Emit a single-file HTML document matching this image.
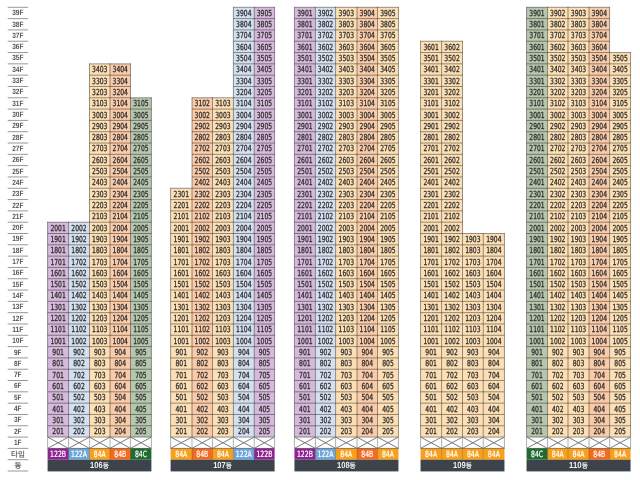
<!DOCTYPE html><html><head><meta charset="utf-8"><style>html,body{margin:0;padding:0;background:#fff;width:640px;height:480px;overflow:hidden}#w{will-change:transform;width:640px;height:480px}svg{display:block;text-rendering:geometricPrecision;font-family:"Liberation Sans","Noto Sans CJK KR",sans-serif}</style></head><body><div id="w"><svg width="640" height="480" viewBox="0 0 640 480"><rect width="640" height="480" fill="#fff"/><g stroke="#999" stroke-width="1"><line x1="7.7" y1="7.30" x2="28.2" y2="7.30"/><line x1="7.7" y1="18.61" x2="28.2" y2="18.61"/><line x1="7.7" y1="29.92" x2="28.2" y2="29.92"/><line x1="7.7" y1="41.23" x2="28.2" y2="41.23"/><line x1="7.7" y1="52.54" x2="28.2" y2="52.54"/><line x1="7.7" y1="63.85" x2="28.2" y2="63.85"/><line x1="7.7" y1="75.16" x2="28.2" y2="75.16"/><line x1="7.7" y1="86.47" x2="28.2" y2="86.47"/><line x1="7.7" y1="97.78" x2="28.2" y2="97.78"/><line x1="7.7" y1="109.09" x2="28.2" y2="109.09"/><line x1="7.7" y1="120.40" x2="28.2" y2="120.40"/><line x1="7.7" y1="131.71" x2="28.2" y2="131.71"/><line x1="7.7" y1="143.02" x2="28.2" y2="143.02"/><line x1="7.7" y1="154.33" x2="28.2" y2="154.33"/><line x1="7.7" y1="165.64" x2="28.2" y2="165.64"/><line x1="7.7" y1="176.95" x2="28.2" y2="176.95"/><line x1="7.7" y1="188.26" x2="28.2" y2="188.26"/><line x1="7.7" y1="199.57" x2="28.2" y2="199.57"/><line x1="7.7" y1="210.88" x2="28.2" y2="210.88"/><line x1="7.7" y1="222.19" x2="28.2" y2="222.19"/><line x1="7.7" y1="233.50" x2="28.2" y2="233.50"/><line x1="7.7" y1="244.81" x2="28.2" y2="244.81"/><line x1="7.7" y1="256.12" x2="28.2" y2="256.12"/><line x1="7.7" y1="267.43" x2="28.2" y2="267.43"/><line x1="7.7" y1="278.74" x2="28.2" y2="278.74"/><line x1="7.7" y1="290.05" x2="28.2" y2="290.05"/><line x1="7.7" y1="301.36" x2="28.2" y2="301.36"/><line x1="7.7" y1="312.67" x2="28.2" y2="312.67"/><line x1="7.7" y1="323.98" x2="28.2" y2="323.98"/><line x1="7.7" y1="335.29" x2="28.2" y2="335.29"/><line x1="7.7" y1="346.60" x2="28.2" y2="346.60"/><line x1="7.7" y1="357.91" x2="28.2" y2="357.91"/><line x1="7.7" y1="369.22" x2="28.2" y2="369.22"/><line x1="7.7" y1="380.53" x2="28.2" y2="380.53"/><line x1="7.7" y1="391.84" x2="28.2" y2="391.84"/><line x1="7.7" y1="403.15" x2="28.2" y2="403.15"/><line x1="7.7" y1="414.46" x2="28.2" y2="414.46"/><line x1="7.7" y1="425.77" x2="28.2" y2="425.77"/><line x1="7.7" y1="437.08" x2="28.2" y2="437.08"/><line x1="7.7" y1="448.39" x2="28.2" y2="448.39"/><line x1="7.7" y1="459.70" x2="28.2" y2="459.70"/><line x1="7.7" y1="471.01" x2="28.2" y2="471.01"/></g><g fill="#555" font-size="7.7" text-anchor="middle"><text x="17.8" y="15.25" textLength="11.3" lengthAdjust="spacingAndGlyphs" font-weight="bold">39F</text><text x="17.8" y="26.57" textLength="11.3" lengthAdjust="spacingAndGlyphs" font-weight="bold">38F</text><text x="17.8" y="37.88" textLength="11.3" lengthAdjust="spacingAndGlyphs" font-weight="bold">37F</text><text x="17.8" y="49.18" textLength="11.3" lengthAdjust="spacingAndGlyphs" font-weight="bold">36F</text><text x="17.8" y="60.49" textLength="11.3" lengthAdjust="spacingAndGlyphs" font-weight="bold">35F</text><text x="17.8" y="71.80" textLength="11.3" lengthAdjust="spacingAndGlyphs" font-weight="bold">34F</text><text x="17.8" y="83.11" textLength="11.3" lengthAdjust="spacingAndGlyphs" font-weight="bold">33F</text><text x="17.8" y="94.42" textLength="11.3" lengthAdjust="spacingAndGlyphs" font-weight="bold">32F</text><text x="17.8" y="105.73" textLength="11.3" lengthAdjust="spacingAndGlyphs" font-weight="bold">31F</text><text x="17.8" y="117.05" textLength="11.3" lengthAdjust="spacingAndGlyphs" font-weight="bold">30F</text><text x="17.8" y="128.36" textLength="11.3" lengthAdjust="spacingAndGlyphs" font-weight="bold">29F</text><text x="17.8" y="139.67" textLength="11.3" lengthAdjust="spacingAndGlyphs" font-weight="bold">28F</text><text x="17.8" y="150.98" textLength="11.3" lengthAdjust="spacingAndGlyphs" font-weight="bold">27F</text><text x="17.8" y="162.29" textLength="11.3" lengthAdjust="spacingAndGlyphs" font-weight="bold">26F</text><text x="17.8" y="173.60" textLength="11.3" lengthAdjust="spacingAndGlyphs" font-weight="bold">25F</text><text x="17.8" y="184.91" textLength="11.3" lengthAdjust="spacingAndGlyphs" font-weight="bold">24F</text><text x="17.8" y="196.22" textLength="11.3" lengthAdjust="spacingAndGlyphs" font-weight="bold">23F</text><text x="17.8" y="207.53" textLength="11.3" lengthAdjust="spacingAndGlyphs" font-weight="bold">22F</text><text x="17.8" y="218.84" textLength="11.3" lengthAdjust="spacingAndGlyphs" font-weight="bold">21F</text><text x="17.8" y="230.15" textLength="11.3" lengthAdjust="spacingAndGlyphs" font-weight="bold">20F</text><text x="17.8" y="241.46" textLength="11.3" lengthAdjust="spacingAndGlyphs" font-weight="bold">19F</text><text x="17.8" y="252.77" textLength="11.3" lengthAdjust="spacingAndGlyphs" font-weight="bold">18F</text><text x="17.8" y="264.07" textLength="11.3" lengthAdjust="spacingAndGlyphs" font-weight="bold">17F</text><text x="17.8" y="275.38" textLength="11.3" lengthAdjust="spacingAndGlyphs" font-weight="bold">16F</text><text x="17.8" y="286.69" textLength="11.3" lengthAdjust="spacingAndGlyphs" font-weight="bold">15F</text><text x="17.8" y="298.00" textLength="11.3" lengthAdjust="spacingAndGlyphs" font-weight="bold">14F</text><text x="17.8" y="309.31" textLength="11.3" lengthAdjust="spacingAndGlyphs" font-weight="bold">13F</text><text x="17.8" y="320.62" textLength="11.3" lengthAdjust="spacingAndGlyphs" font-weight="bold">12F</text><text x="17.8" y="331.94" textLength="11.3" lengthAdjust="spacingAndGlyphs" font-weight="bold">11F</text><text x="17.8" y="343.25" textLength="11.3" lengthAdjust="spacingAndGlyphs" font-weight="bold">10F</text><text x="17.8" y="354.56" textLength="7.6" lengthAdjust="spacingAndGlyphs" font-weight="bold">9F</text><text x="17.8" y="365.87" textLength="7.6" lengthAdjust="spacingAndGlyphs" font-weight="bold">8F</text><text x="17.8" y="377.18" textLength="7.6" lengthAdjust="spacingAndGlyphs" font-weight="bold">7F</text><text x="17.8" y="388.49" textLength="7.6" lengthAdjust="spacingAndGlyphs" font-weight="bold">6F</text><text x="17.8" y="399.80" textLength="7.6" lengthAdjust="spacingAndGlyphs" font-weight="bold">5F</text><text x="17.8" y="411.11" textLength="7.6" lengthAdjust="spacingAndGlyphs" font-weight="bold">4F</text><text x="17.8" y="422.42" textLength="7.6" lengthAdjust="spacingAndGlyphs" font-weight="bold">3F</text><text x="17.8" y="433.73" textLength="7.6" lengthAdjust="spacingAndGlyphs" font-weight="bold">2F</text><text x="17.8" y="445.04" textLength="7.6" lengthAdjust="spacingAndGlyphs" font-weight="bold">1F</text><text x="17.9" y="456.94" font-size="7.6" font-weight="normal" stroke="#5e5e5e" stroke-width="0.15">타입</text><text x="17.9" y="468.25" font-size="7.6" font-weight="normal" stroke="#5e5e5e" stroke-width="0.15">동</text></g><g><rect x="47.60" y="222.19" width="20.95" height="214.89" fill="#d6b9db"/><rect x="47.60" y="448.39" width="21.25" height="11.31" fill="#8f2391"/><rect x="68.55" y="222.19" width="20.95" height="214.89" fill="#d4e0ef"/><rect x="68.55" y="448.39" width="21.25" height="11.31" fill="#6fa7da"/><rect x="89.50" y="63.85" width="20.50" height="373.23" fill="#fcdfb4"/><rect x="89.50" y="448.39" width="20.80" height="11.31" fill="#f7a01c"/><rect x="110.00" y="63.85" width="20.50" height="373.23" fill="#f9cba9"/><rect x="110.00" y="448.39" width="20.80" height="11.31" fill="#f26b21"/><rect x="130.50" y="97.78" width="20.90" height="339.30" fill="#b6c7ae"/><rect x="130.50" y="448.39" width="20.90" height="11.31" fill="#1f6b30"/></g><g stroke="#000" stroke-opacity="0.4" stroke-width="1"><line x1="47.60" y1="221.69" x2="47.60" y2="437.08"/><line x1="68.55" y1="221.69" x2="68.55" y2="437.08"/><line x1="89.50" y1="63.35" x2="89.50" y2="437.08"/><line x1="110.00" y1="63.35" x2="110.00" y2="437.08"/><line x1="130.50" y1="63.35" x2="130.50" y2="437.08"/><line x1="151.40" y1="97.28" x2="151.40" y2="437.08"/><line x1="47.60" y1="222.19" x2="68.55" y2="222.19"/><line x1="47.60" y1="233.50" x2="68.55" y2="233.50"/><line x1="47.60" y1="244.81" x2="68.55" y2="244.81"/><line x1="47.60" y1="256.12" x2="68.55" y2="256.12"/><line x1="47.60" y1="267.43" x2="68.55" y2="267.43"/><line x1="47.60" y1="278.74" x2="68.55" y2="278.74"/><line x1="47.60" y1="290.05" x2="68.55" y2="290.05"/><line x1="47.60" y1="301.36" x2="68.55" y2="301.36"/><line x1="47.60" y1="312.67" x2="68.55" y2="312.67"/><line x1="47.60" y1="323.98" x2="68.55" y2="323.98"/><line x1="47.60" y1="335.29" x2="68.55" y2="335.29"/><line x1="47.60" y1="346.60" x2="68.55" y2="346.60"/><line x1="47.60" y1="357.91" x2="68.55" y2="357.91"/><line x1="47.60" y1="369.22" x2="68.55" y2="369.22"/><line x1="47.60" y1="380.53" x2="68.55" y2="380.53"/><line x1="47.60" y1="391.84" x2="68.55" y2="391.84"/><line x1="47.60" y1="403.15" x2="68.55" y2="403.15"/><line x1="47.60" y1="414.46" x2="68.55" y2="414.46"/><line x1="47.60" y1="425.77" x2="68.55" y2="425.77"/><line x1="47.60" y1="437.08" x2="68.55" y2="437.08"/><line x1="47.60" y1="448.39" x2="68.55" y2="448.39"/><line x1="68.55" y1="222.19" x2="89.50" y2="222.19"/><line x1="68.55" y1="233.50" x2="89.50" y2="233.50"/><line x1="68.55" y1="244.81" x2="89.50" y2="244.81"/><line x1="68.55" y1="256.12" x2="89.50" y2="256.12"/><line x1="68.55" y1="267.43" x2="89.50" y2="267.43"/><line x1="68.55" y1="278.74" x2="89.50" y2="278.74"/><line x1="68.55" y1="290.05" x2="89.50" y2="290.05"/><line x1="68.55" y1="301.36" x2="89.50" y2="301.36"/><line x1="68.55" y1="312.67" x2="89.50" y2="312.67"/><line x1="68.55" y1="323.98" x2="89.50" y2="323.98"/><line x1="68.55" y1="335.29" x2="89.50" y2="335.29"/><line x1="68.55" y1="346.60" x2="89.50" y2="346.60"/><line x1="68.55" y1="357.91" x2="89.50" y2="357.91"/><line x1="68.55" y1="369.22" x2="89.50" y2="369.22"/><line x1="68.55" y1="380.53" x2="89.50" y2="380.53"/><line x1="68.55" y1="391.84" x2="89.50" y2="391.84"/><line x1="68.55" y1="403.15" x2="89.50" y2="403.15"/><line x1="68.55" y1="414.46" x2="89.50" y2="414.46"/><line x1="68.55" y1="425.77" x2="89.50" y2="425.77"/><line x1="68.55" y1="437.08" x2="89.50" y2="437.08"/><line x1="68.55" y1="448.39" x2="89.50" y2="448.39"/><line x1="89.50" y1="63.85" x2="110.00" y2="63.85"/><line x1="89.50" y1="75.16" x2="110.00" y2="75.16"/><line x1="89.50" y1="86.47" x2="110.00" y2="86.47"/><line x1="89.50" y1="97.78" x2="110.00" y2="97.78"/><line x1="89.50" y1="109.09" x2="110.00" y2="109.09"/><line x1="89.50" y1="120.40" x2="110.00" y2="120.40"/><line x1="89.50" y1="131.71" x2="110.00" y2="131.71"/><line x1="89.50" y1="143.02" x2="110.00" y2="143.02"/><line x1="89.50" y1="154.33" x2="110.00" y2="154.33"/><line x1="89.50" y1="165.64" x2="110.00" y2="165.64"/><line x1="89.50" y1="176.95" x2="110.00" y2="176.95"/><line x1="89.50" y1="188.26" x2="110.00" y2="188.26"/><line x1="89.50" y1="199.57" x2="110.00" y2="199.57"/><line x1="89.50" y1="210.88" x2="110.00" y2="210.88"/><line x1="89.50" y1="222.19" x2="110.00" y2="222.19"/><line x1="89.50" y1="233.50" x2="110.00" y2="233.50"/><line x1="89.50" y1="244.81" x2="110.00" y2="244.81"/><line x1="89.50" y1="256.12" x2="110.00" y2="256.12"/><line x1="89.50" y1="267.43" x2="110.00" y2="267.43"/><line x1="89.50" y1="278.74" x2="110.00" y2="278.74"/><line x1="89.50" y1="290.05" x2="110.00" y2="290.05"/><line x1="89.50" y1="301.36" x2="110.00" y2="301.36"/><line x1="89.50" y1="312.67" x2="110.00" y2="312.67"/><line x1="89.50" y1="323.98" x2="110.00" y2="323.98"/><line x1="89.50" y1="335.29" x2="110.00" y2="335.29"/><line x1="89.50" y1="346.60" x2="110.00" y2="346.60"/><line x1="89.50" y1="357.91" x2="110.00" y2="357.91"/><line x1="89.50" y1="369.22" x2="110.00" y2="369.22"/><line x1="89.50" y1="380.53" x2="110.00" y2="380.53"/><line x1="89.50" y1="391.84" x2="110.00" y2="391.84"/><line x1="89.50" y1="403.15" x2="110.00" y2="403.15"/><line x1="89.50" y1="414.46" x2="110.00" y2="414.46"/><line x1="89.50" y1="425.77" x2="110.00" y2="425.77"/><line x1="89.50" y1="437.08" x2="110.00" y2="437.08"/><line x1="89.50" y1="448.39" x2="110.00" y2="448.39"/><line x1="110.00" y1="63.85" x2="130.50" y2="63.85"/><line x1="110.00" y1="75.16" x2="130.50" y2="75.16"/><line x1="110.00" y1="86.47" x2="130.50" y2="86.47"/><line x1="110.00" y1="97.78" x2="130.50" y2="97.78"/><line x1="110.00" y1="109.09" x2="130.50" y2="109.09"/><line x1="110.00" y1="120.40" x2="130.50" y2="120.40"/><line x1="110.00" y1="131.71" x2="130.50" y2="131.71"/><line x1="110.00" y1="143.02" x2="130.50" y2="143.02"/><line x1="110.00" y1="154.33" x2="130.50" y2="154.33"/><line x1="110.00" y1="165.64" x2="130.50" y2="165.64"/><line x1="110.00" y1="176.95" x2="130.50" y2="176.95"/><line x1="110.00" y1="188.26" x2="130.50" y2="188.26"/><line x1="110.00" y1="199.57" x2="130.50" y2="199.57"/><line x1="110.00" y1="210.88" x2="130.50" y2="210.88"/><line x1="110.00" y1="222.19" x2="130.50" y2="222.19"/><line x1="110.00" y1="233.50" x2="130.50" y2="233.50"/><line x1="110.00" y1="244.81" x2="130.50" y2="244.81"/><line x1="110.00" y1="256.12" x2="130.50" y2="256.12"/><line x1="110.00" y1="267.43" x2="130.50" y2="267.43"/><line x1="110.00" y1="278.74" x2="130.50" y2="278.74"/><line x1="110.00" y1="290.05" x2="130.50" y2="290.05"/><line x1="110.00" y1="301.36" x2="130.50" y2="301.36"/><line x1="110.00" y1="312.67" x2="130.50" y2="312.67"/><line x1="110.00" y1="323.98" x2="130.50" y2="323.98"/><line x1="110.00" y1="335.29" x2="130.50" y2="335.29"/><line x1="110.00" y1="346.60" x2="130.50" y2="346.60"/><line x1="110.00" y1="357.91" x2="130.50" y2="357.91"/><line x1="110.00" y1="369.22" x2="130.50" y2="369.22"/><line x1="110.00" y1="380.53" x2="130.50" y2="380.53"/><line x1="110.00" y1="391.84" x2="130.50" y2="391.84"/><line x1="110.00" y1="403.15" x2="130.50" y2="403.15"/><line x1="110.00" y1="414.46" x2="130.50" y2="414.46"/><line x1="110.00" y1="425.77" x2="130.50" y2="425.77"/><line x1="110.00" y1="437.08" x2="130.50" y2="437.08"/><line x1="110.00" y1="448.39" x2="130.50" y2="448.39"/><line x1="130.50" y1="97.78" x2="151.40" y2="97.78"/><line x1="130.50" y1="109.09" x2="151.40" y2="109.09"/><line x1="130.50" y1="120.40" x2="151.40" y2="120.40"/><line x1="130.50" y1="131.71" x2="151.40" y2="131.71"/><line x1="130.50" y1="143.02" x2="151.40" y2="143.02"/><line x1="130.50" y1="154.33" x2="151.40" y2="154.33"/><line x1="130.50" y1="165.64" x2="151.40" y2="165.64"/><line x1="130.50" y1="176.95" x2="151.40" y2="176.95"/><line x1="130.50" y1="188.26" x2="151.40" y2="188.26"/><line x1="130.50" y1="199.57" x2="151.40" y2="199.57"/><line x1="130.50" y1="210.88" x2="151.40" y2="210.88"/><line x1="130.50" y1="222.19" x2="151.40" y2="222.19"/><line x1="130.50" y1="233.50" x2="151.40" y2="233.50"/><line x1="130.50" y1="244.81" x2="151.40" y2="244.81"/><line x1="130.50" y1="256.12" x2="151.40" y2="256.12"/><line x1="130.50" y1="267.43" x2="151.40" y2="267.43"/><line x1="130.50" y1="278.74" x2="151.40" y2="278.74"/><line x1="130.50" y1="290.05" x2="151.40" y2="290.05"/><line x1="130.50" y1="301.36" x2="151.40" y2="301.36"/><line x1="130.50" y1="312.67" x2="151.40" y2="312.67"/><line x1="130.50" y1="323.98" x2="151.40" y2="323.98"/><line x1="130.50" y1="335.29" x2="151.40" y2="335.29"/><line x1="130.50" y1="346.60" x2="151.40" y2="346.60"/><line x1="130.50" y1="357.91" x2="151.40" y2="357.91"/><line x1="130.50" y1="369.22" x2="151.40" y2="369.22"/><line x1="130.50" y1="380.53" x2="151.40" y2="380.53"/><line x1="130.50" y1="391.84" x2="151.40" y2="391.84"/><line x1="130.50" y1="403.15" x2="151.40" y2="403.15"/><line x1="130.50" y1="414.46" x2="151.40" y2="414.46"/><line x1="130.50" y1="425.77" x2="151.40" y2="425.77"/><line x1="130.50" y1="437.08" x2="151.40" y2="437.08"/><line x1="130.50" y1="448.39" x2="151.40" y2="448.39"/></g><g stroke="#b4b4b4" stroke-width="1.1"><line x1="47.60" y1="437.58" x2="47.60" y2="448.39"/><line x1="68.55" y1="437.58" x2="68.55" y2="448.39"/><line x1="89.50" y1="437.58" x2="89.50" y2="448.39"/><line x1="110.00" y1="437.58" x2="110.00" y2="448.39"/><line x1="130.50" y1="437.58" x2="130.50" y2="448.39"/><line x1="151.40" y1="437.58" x2="151.40" y2="448.39"/></g><g stroke="#6a6a6a" stroke-width="0.9" fill="none"><path d="M47.60 437.08L68.55 448.39M68.55 437.08L47.60 448.39"/><path d="M68.55 437.08L89.50 448.39M89.50 437.08L68.55 448.39"/><path d="M89.50 437.08L110.00 448.39M110.00 437.08L89.50 448.39"/><path d="M110.00 437.08L130.50 448.39M130.50 437.08L110.00 448.39"/><path d="M130.50 437.08L151.40 448.39M151.40 437.08L130.50 448.39"/></g><g stroke="#000" stroke-opacity="0.18" stroke-width="1"><line x1="68.55" y1="448.39" x2="68.55" y2="459.70"/><line x1="89.50" y1="448.39" x2="89.50" y2="459.70"/><line x1="110.00" y1="448.39" x2="110.00" y2="459.70"/><line x1="130.50" y1="448.39" x2="130.50" y2="459.70"/></g><g fill="#303030" font-size="8.3" font-weight="normal" font-family="DejaVu Sans, sans-serif" font-stretch="condensed" text-anchor="middle" stroke="#303030" stroke-width="0.3"><text x="58.08" y="434.18" textLength="11.6" lengthAdjust="spacingAndGlyphs">201</text><text x="58.08" y="422.87" textLength="11.6" lengthAdjust="spacingAndGlyphs">301</text><text x="58.08" y="411.56" textLength="11.6" lengthAdjust="spacingAndGlyphs">401</text><text x="58.08" y="400.25" textLength="11.6" lengthAdjust="spacingAndGlyphs">501</text><text x="58.08" y="388.94" textLength="11.6" lengthAdjust="spacingAndGlyphs">601</text><text x="58.08" y="377.62" textLength="11.6" lengthAdjust="spacingAndGlyphs">701</text><text x="58.08" y="366.31" textLength="11.6" lengthAdjust="spacingAndGlyphs">801</text><text x="58.08" y="355.00" textLength="11.6" lengthAdjust="spacingAndGlyphs">901</text><text x="58.08" y="343.69" textLength="15.4" lengthAdjust="spacingAndGlyphs">1001</text><text x="58.08" y="332.38" textLength="15.4" lengthAdjust="spacingAndGlyphs">1101</text><text x="58.08" y="321.07" textLength="15.4" lengthAdjust="spacingAndGlyphs">1201</text><text x="58.08" y="309.76" textLength="15.4" lengthAdjust="spacingAndGlyphs">1301</text><text x="58.08" y="298.45" textLength="15.4" lengthAdjust="spacingAndGlyphs">1401</text><text x="58.08" y="287.14" textLength="15.4" lengthAdjust="spacingAndGlyphs">1501</text><text x="58.08" y="275.83" textLength="15.4" lengthAdjust="spacingAndGlyphs">1601</text><text x="58.08" y="264.52" textLength="15.4" lengthAdjust="spacingAndGlyphs">1701</text><text x="58.08" y="253.22" textLength="15.4" lengthAdjust="spacingAndGlyphs">1801</text><text x="58.08" y="241.91" textLength="15.4" lengthAdjust="spacingAndGlyphs">1901</text><text x="58.08" y="230.60" textLength="15.4" lengthAdjust="spacingAndGlyphs">2001</text><text x="79.03" y="434.18" textLength="11.6" lengthAdjust="spacingAndGlyphs">202</text><text x="79.03" y="422.87" textLength="11.6" lengthAdjust="spacingAndGlyphs">302</text><text x="79.03" y="411.56" textLength="11.6" lengthAdjust="spacingAndGlyphs">402</text><text x="79.03" y="400.25" textLength="11.6" lengthAdjust="spacingAndGlyphs">502</text><text x="79.03" y="388.94" textLength="11.6" lengthAdjust="spacingAndGlyphs">602</text><text x="79.03" y="377.62" textLength="11.6" lengthAdjust="spacingAndGlyphs">702</text><text x="79.03" y="366.31" textLength="11.6" lengthAdjust="spacingAndGlyphs">802</text><text x="79.03" y="355.00" textLength="11.6" lengthAdjust="spacingAndGlyphs">902</text><text x="79.03" y="343.69" textLength="15.4" lengthAdjust="spacingAndGlyphs">1002</text><text x="79.03" y="332.38" textLength="15.4" lengthAdjust="spacingAndGlyphs">1102</text><text x="79.03" y="321.07" textLength="15.4" lengthAdjust="spacingAndGlyphs">1202</text><text x="79.03" y="309.76" textLength="15.4" lengthAdjust="spacingAndGlyphs">1302</text><text x="79.03" y="298.45" textLength="15.4" lengthAdjust="spacingAndGlyphs">1402</text><text x="79.03" y="287.14" textLength="15.4" lengthAdjust="spacingAndGlyphs">1502</text><text x="79.03" y="275.83" textLength="15.4" lengthAdjust="spacingAndGlyphs">1602</text><text x="79.03" y="264.52" textLength="15.4" lengthAdjust="spacingAndGlyphs">1702</text><text x="79.03" y="253.22" textLength="15.4" lengthAdjust="spacingAndGlyphs">1802</text><text x="79.03" y="241.91" textLength="15.4" lengthAdjust="spacingAndGlyphs">1902</text><text x="79.03" y="230.60" textLength="15.4" lengthAdjust="spacingAndGlyphs">2002</text><text x="99.75" y="434.18" textLength="11.6" lengthAdjust="spacingAndGlyphs">203</text><text x="99.75" y="422.87" textLength="11.6" lengthAdjust="spacingAndGlyphs">303</text><text x="99.75" y="411.56" textLength="11.6" lengthAdjust="spacingAndGlyphs">403</text><text x="99.75" y="400.25" textLength="11.6" lengthAdjust="spacingAndGlyphs">503</text><text x="99.75" y="388.94" textLength="11.6" lengthAdjust="spacingAndGlyphs">603</text><text x="99.75" y="377.62" textLength="11.6" lengthAdjust="spacingAndGlyphs">703</text><text x="99.75" y="366.31" textLength="11.6" lengthAdjust="spacingAndGlyphs">803</text><text x="99.75" y="355.00" textLength="11.6" lengthAdjust="spacingAndGlyphs">903</text><text x="99.75" y="343.69" textLength="15.4" lengthAdjust="spacingAndGlyphs">1003</text><text x="99.75" y="332.38" textLength="15.4" lengthAdjust="spacingAndGlyphs">1103</text><text x="99.75" y="321.07" textLength="15.4" lengthAdjust="spacingAndGlyphs">1203</text><text x="99.75" y="309.76" textLength="15.4" lengthAdjust="spacingAndGlyphs">1303</text><text x="99.75" y="298.45" textLength="15.4" lengthAdjust="spacingAndGlyphs">1403</text><text x="99.75" y="287.14" textLength="15.4" lengthAdjust="spacingAndGlyphs">1503</text><text x="99.75" y="275.83" textLength="15.4" lengthAdjust="spacingAndGlyphs">1603</text><text x="99.75" y="264.52" textLength="15.4" lengthAdjust="spacingAndGlyphs">1703</text><text x="99.75" y="253.22" textLength="15.4" lengthAdjust="spacingAndGlyphs">1803</text><text x="99.75" y="241.91" textLength="15.4" lengthAdjust="spacingAndGlyphs">1903</text><text x="99.75" y="230.60" textLength="15.4" lengthAdjust="spacingAndGlyphs">2003</text><text x="99.75" y="219.29" textLength="15.4" lengthAdjust="spacingAndGlyphs">2103</text><text x="99.75" y="207.98" textLength="15.4" lengthAdjust="spacingAndGlyphs">2203</text><text x="99.75" y="196.67" textLength="15.4" lengthAdjust="spacingAndGlyphs">2303</text><text x="99.75" y="185.36" textLength="15.4" lengthAdjust="spacingAndGlyphs">2403</text><text x="99.75" y="174.05" textLength="15.4" lengthAdjust="spacingAndGlyphs">2503</text><text x="99.75" y="162.74" textLength="15.4" lengthAdjust="spacingAndGlyphs">2603</text><text x="99.75" y="151.43" textLength="15.4" lengthAdjust="spacingAndGlyphs">2703</text><text x="99.75" y="140.12" textLength="15.4" lengthAdjust="spacingAndGlyphs">2803</text><text x="99.75" y="128.81" textLength="15.4" lengthAdjust="spacingAndGlyphs">2903</text><text x="99.75" y="117.50" textLength="15.4" lengthAdjust="spacingAndGlyphs">3003</text><text x="99.75" y="106.19" textLength="15.4" lengthAdjust="spacingAndGlyphs">3103</text><text x="99.75" y="94.88" textLength="15.4" lengthAdjust="spacingAndGlyphs">3203</text><text x="99.75" y="83.56" textLength="15.4" lengthAdjust="spacingAndGlyphs">3303</text><text x="99.75" y="72.25" textLength="15.4" lengthAdjust="spacingAndGlyphs">3403</text><text x="120.25" y="434.18" textLength="11.6" lengthAdjust="spacingAndGlyphs">204</text><text x="120.25" y="422.87" textLength="11.6" lengthAdjust="spacingAndGlyphs">304</text><text x="120.25" y="411.56" textLength="11.6" lengthAdjust="spacingAndGlyphs">404</text><text x="120.25" y="400.25" textLength="11.6" lengthAdjust="spacingAndGlyphs">504</text><text x="120.25" y="388.94" textLength="11.6" lengthAdjust="spacingAndGlyphs">604</text><text x="120.25" y="377.62" textLength="11.6" lengthAdjust="spacingAndGlyphs">704</text><text x="120.25" y="366.31" textLength="11.6" lengthAdjust="spacingAndGlyphs">804</text><text x="120.25" y="355.00" textLength="11.6" lengthAdjust="spacingAndGlyphs">904</text><text x="120.25" y="343.69" textLength="15.4" lengthAdjust="spacingAndGlyphs">1004</text><text x="120.25" y="332.38" textLength="15.4" lengthAdjust="spacingAndGlyphs">1104</text><text x="120.25" y="321.07" textLength="15.4" lengthAdjust="spacingAndGlyphs">1204</text><text x="120.25" y="309.76" textLength="15.4" lengthAdjust="spacingAndGlyphs">1304</text><text x="120.25" y="298.45" textLength="15.4" lengthAdjust="spacingAndGlyphs">1404</text><text x="120.25" y="287.14" textLength="15.4" lengthAdjust="spacingAndGlyphs">1504</text><text x="120.25" y="275.83" textLength="15.4" lengthAdjust="spacingAndGlyphs">1604</text><text x="120.25" y="264.52" textLength="15.4" lengthAdjust="spacingAndGlyphs">1704</text><text x="120.25" y="253.22" textLength="15.4" lengthAdjust="spacingAndGlyphs">1804</text><text x="120.25" y="241.91" textLength="15.4" lengthAdjust="spacingAndGlyphs">1904</text><text x="120.25" y="230.60" textLength="15.4" lengthAdjust="spacingAndGlyphs">2004</text><text x="120.25" y="219.29" textLength="15.4" lengthAdjust="spacingAndGlyphs">2104</text><text x="120.25" y="207.98" textLength="15.4" lengthAdjust="spacingAndGlyphs">2204</text><text x="120.25" y="196.67" textLength="15.4" lengthAdjust="spacingAndGlyphs">2304</text><text x="120.25" y="185.36" textLength="15.4" lengthAdjust="spacingAndGlyphs">2404</text><text x="120.25" y="174.05" textLength="15.4" lengthAdjust="spacingAndGlyphs">2504</text><text x="120.25" y="162.74" textLength="15.4" lengthAdjust="spacingAndGlyphs">2604</text><text x="120.25" y="151.43" textLength="15.4" lengthAdjust="spacingAndGlyphs">2704</text><text x="120.25" y="140.12" textLength="15.4" lengthAdjust="spacingAndGlyphs">2804</text><text x="120.25" y="128.81" textLength="15.4" lengthAdjust="spacingAndGlyphs">2904</text><text x="120.25" y="117.50" textLength="15.4" lengthAdjust="spacingAndGlyphs">3004</text><text x="120.25" y="106.19" textLength="15.4" lengthAdjust="spacingAndGlyphs">3104</text><text x="120.25" y="94.88" textLength="15.4" lengthAdjust="spacingAndGlyphs">3204</text><text x="120.25" y="83.56" textLength="15.4" lengthAdjust="spacingAndGlyphs">3304</text><text x="120.25" y="72.25" textLength="15.4" lengthAdjust="spacingAndGlyphs">3404</text><text x="140.95" y="434.18" textLength="11.6" lengthAdjust="spacingAndGlyphs">205</text><text x="140.95" y="422.87" textLength="11.6" lengthAdjust="spacingAndGlyphs">305</text><text x="140.95" y="411.56" textLength="11.6" lengthAdjust="spacingAndGlyphs">405</text><text x="140.95" y="400.25" textLength="11.6" lengthAdjust="spacingAndGlyphs">505</text><text x="140.95" y="388.94" textLength="11.6" lengthAdjust="spacingAndGlyphs">605</text><text x="140.95" y="377.62" textLength="11.6" lengthAdjust="spacingAndGlyphs">705</text><text x="140.95" y="366.31" textLength="11.6" lengthAdjust="spacingAndGlyphs">805</text><text x="140.95" y="355.00" textLength="11.6" lengthAdjust="spacingAndGlyphs">905</text><text x="140.95" y="343.69" textLength="15.4" lengthAdjust="spacingAndGlyphs">1005</text><text x="140.95" y="332.38" textLength="15.4" lengthAdjust="spacingAndGlyphs">1105</text><text x="140.95" y="321.07" textLength="15.4" lengthAdjust="spacingAndGlyphs">1205</text><text x="140.95" y="309.76" textLength="15.4" lengthAdjust="spacingAndGlyphs">1305</text><text x="140.95" y="298.45" textLength="15.4" lengthAdjust="spacingAndGlyphs">1405</text><text x="140.95" y="287.14" textLength="15.4" lengthAdjust="spacingAndGlyphs">1505</text><text x="140.95" y="275.83" textLength="15.4" lengthAdjust="spacingAndGlyphs">1605</text><text x="140.95" y="264.52" textLength="15.4" lengthAdjust="spacingAndGlyphs">1705</text><text x="140.95" y="253.22" textLength="15.4" lengthAdjust="spacingAndGlyphs">1805</text><text x="140.95" y="241.91" textLength="15.4" lengthAdjust="spacingAndGlyphs">1905</text><text x="140.95" y="230.60" textLength="15.4" lengthAdjust="spacingAndGlyphs">2005</text><text x="140.95" y="219.29" textLength="15.4" lengthAdjust="spacingAndGlyphs">2105</text><text x="140.95" y="207.98" textLength="15.4" lengthAdjust="spacingAndGlyphs">2205</text><text x="140.95" y="196.67" textLength="15.4" lengthAdjust="spacingAndGlyphs">2305</text><text x="140.95" y="185.36" textLength="15.4" lengthAdjust="spacingAndGlyphs">2405</text><text x="140.95" y="174.05" textLength="15.4" lengthAdjust="spacingAndGlyphs">2505</text><text x="140.95" y="162.74" textLength="15.4" lengthAdjust="spacingAndGlyphs">2605</text><text x="140.95" y="151.43" textLength="15.4" lengthAdjust="spacingAndGlyphs">2705</text><text x="140.95" y="140.12" textLength="15.4" lengthAdjust="spacingAndGlyphs">2805</text><text x="140.95" y="128.81" textLength="15.4" lengthAdjust="spacingAndGlyphs">2905</text><text x="140.95" y="117.50" textLength="15.4" lengthAdjust="spacingAndGlyphs">3005</text><text x="140.95" y="106.19" textLength="15.4" lengthAdjust="spacingAndGlyphs">3105</text></g><g fill="#fff" stroke="#fff" stroke-width="0.2" font-size="8.6" font-family="DejaVu Sans, sans-serif" font-stretch="condensed" text-anchor="middle"><text x="58.08" y="456.94" textLength="16.0" lengthAdjust="spacingAndGlyphs">122B</text><text x="79.03" y="456.94" textLength="16.0" lengthAdjust="spacingAndGlyphs">122A</text><text x="99.75" y="456.94" textLength="12.0" lengthAdjust="spacingAndGlyphs">84A</text><text x="120.25" y="456.94" textLength="12.0" lengthAdjust="spacingAndGlyphs">84B</text><text x="140.95" y="456.94" textLength="12.0" lengthAdjust="spacingAndGlyphs">84C</text></g><rect x="47.60" y="459.70" width="103.80" height="11.71" fill="#3d434a"/><text x="99.50" y="468.36" fill="#f0f0f0" font-size="8.8" font-weight="bold" text-anchor="middle"><tspan textLength="12.6" lengthAdjust="spacingAndGlyphs">106</tspan><tspan font-size="6.8" font-weight="normal" stroke="#f0f0f0" stroke-width="0.25">동</tspan></text><g><rect x="170.60" y="188.26" width="21.40" height="248.82" fill="#fcdfb4"/><rect x="170.60" y="448.39" width="21.70" height="11.31" fill="#f7a01c"/><rect x="192.00" y="97.78" width="20.50" height="339.30" fill="#f9cba9"/><rect x="192.00" y="448.39" width="20.80" height="11.31" fill="#f26b21"/><rect x="212.50" y="97.78" width="20.90" height="339.30" fill="#fcdfb4"/><rect x="212.50" y="448.39" width="21.20" height="11.31" fill="#f7a01c"/><rect x="233.40" y="7.30" width="20.85" height="429.78" fill="#d4e0ef"/><rect x="233.40" y="448.39" width="21.15" height="11.31" fill="#6fa7da"/><rect x="254.25" y="7.30" width="20.35" height="429.78" fill="#d6b9db"/><rect x="254.25" y="448.39" width="20.35" height="11.31" fill="#8f2391"/></g><g stroke="#000" stroke-opacity="0.4" stroke-width="1"><line x1="170.60" y1="187.76" x2="170.60" y2="437.08"/><line x1="192.00" y1="97.28" x2="192.00" y2="437.08"/><line x1="212.50" y1="97.28" x2="212.50" y2="437.08"/><line x1="233.40" y1="6.80" x2="233.40" y2="437.08"/><line x1="254.25" y1="6.80" x2="254.25" y2="437.08"/><line x1="274.60" y1="6.80" x2="274.60" y2="437.08"/><line x1="170.60" y1="188.26" x2="192.00" y2="188.26"/><line x1="170.60" y1="199.57" x2="192.00" y2="199.57"/><line x1="170.60" y1="210.88" x2="192.00" y2="210.88"/><line x1="170.60" y1="222.19" x2="192.00" y2="222.19"/><line x1="170.60" y1="233.50" x2="192.00" y2="233.50"/><line x1="170.60" y1="244.81" x2="192.00" y2="244.81"/><line x1="170.60" y1="256.12" x2="192.00" y2="256.12"/><line x1="170.60" y1="267.43" x2="192.00" y2="267.43"/><line x1="170.60" y1="278.74" x2="192.00" y2="278.74"/><line x1="170.60" y1="290.05" x2="192.00" y2="290.05"/><line x1="170.60" y1="301.36" x2="192.00" y2="301.36"/><line x1="170.60" y1="312.67" x2="192.00" y2="312.67"/><line x1="170.60" y1="323.98" x2="192.00" y2="323.98"/><line x1="170.60" y1="335.29" x2="192.00" y2="335.29"/><line x1="170.60" y1="346.60" x2="192.00" y2="346.60"/><line x1="170.60" y1="357.91" x2="192.00" y2="357.91"/><line x1="170.60" y1="369.22" x2="192.00" y2="369.22"/><line x1="170.60" y1="380.53" x2="192.00" y2="380.53"/><line x1="170.60" y1="391.84" x2="192.00" y2="391.84"/><line x1="170.60" y1="403.15" x2="192.00" y2="403.15"/><line x1="170.60" y1="414.46" x2="192.00" y2="414.46"/><line x1="170.60" y1="425.77" x2="192.00" y2="425.77"/><line x1="170.60" y1="437.08" x2="192.00" y2="437.08"/><line x1="170.60" y1="448.39" x2="192.00" y2="448.39"/><line x1="192.00" y1="97.78" x2="212.50" y2="97.78"/><line x1="192.00" y1="109.09" x2="212.50" y2="109.09"/><line x1="192.00" y1="120.40" x2="212.50" y2="120.40"/><line x1="192.00" y1="131.71" x2="212.50" y2="131.71"/><line x1="192.00" y1="143.02" x2="212.50" y2="143.02"/><line x1="192.00" y1="154.33" x2="212.50" y2="154.33"/><line x1="192.00" y1="165.64" x2="212.50" y2="165.64"/><line x1="192.00" y1="176.95" x2="212.50" y2="176.95"/><line x1="192.00" y1="188.26" x2="212.50" y2="188.26"/><line x1="192.00" y1="199.57" x2="212.50" y2="199.57"/><line x1="192.00" y1="210.88" x2="212.50" y2="210.88"/><line x1="192.00" y1="222.19" x2="212.50" y2="222.19"/><line x1="192.00" y1="233.50" x2="212.50" y2="233.50"/><line x1="192.00" y1="244.81" x2="212.50" y2="244.81"/><line x1="192.00" y1="256.12" x2="212.50" y2="256.12"/><line x1="192.00" y1="267.43" x2="212.50" y2="267.43"/><line x1="192.00" y1="278.74" x2="212.50" y2="278.74"/><line x1="192.00" y1="290.05" x2="212.50" y2="290.05"/><line x1="192.00" y1="301.36" x2="212.50" y2="301.36"/><line x1="192.00" y1="312.67" x2="212.50" y2="312.67"/><line x1="192.00" y1="323.98" x2="212.50" y2="323.98"/><line x1="192.00" y1="335.29" x2="212.50" y2="335.29"/><line x1="192.00" y1="346.60" x2="212.50" y2="346.60"/><line x1="192.00" y1="357.91" x2="212.50" y2="357.91"/><line x1="192.00" y1="369.22" x2="212.50" y2="369.22"/><line x1="192.00" y1="380.53" x2="212.50" y2="380.53"/><line x1="192.00" y1="391.84" x2="212.50" y2="391.84"/><line x1="192.00" y1="403.15" x2="212.50" y2="403.15"/><line x1="192.00" y1="414.46" x2="212.50" y2="414.46"/><line x1="192.00" y1="425.77" x2="212.50" y2="425.77"/><line x1="192.00" y1="437.08" x2="212.50" y2="437.08"/><line x1="192.00" y1="448.39" x2="212.50" y2="448.39"/><line x1="212.50" y1="97.78" x2="233.40" y2="97.78"/><line x1="212.50" y1="109.09" x2="233.40" y2="109.09"/><line x1="212.50" y1="120.40" x2="233.40" y2="120.40"/><line x1="212.50" y1="131.71" x2="233.40" y2="131.71"/><line x1="212.50" y1="143.02" x2="233.40" y2="143.02"/><line x1="212.50" y1="154.33" x2="233.40" y2="154.33"/><line x1="212.50" y1="165.64" x2="233.40" y2="165.64"/><line x1="212.50" y1="176.95" x2="233.40" y2="176.95"/><line x1="212.50" y1="188.26" x2="233.40" y2="188.26"/><line x1="212.50" y1="199.57" x2="233.40" y2="199.57"/><line x1="212.50" y1="210.88" x2="233.40" y2="210.88"/><line x1="212.50" y1="222.19" x2="233.40" y2="222.19"/><line x1="212.50" y1="233.50" x2="233.40" y2="233.50"/><line x1="212.50" y1="244.81" x2="233.40" y2="244.81"/><line x1="212.50" y1="256.12" x2="233.40" y2="256.12"/><line x1="212.50" y1="267.43" x2="233.40" y2="267.43"/><line x1="212.50" y1="278.74" x2="233.40" y2="278.74"/><line x1="212.50" y1="290.05" x2="233.40" y2="290.05"/><line x1="212.50" y1="301.36" x2="233.40" y2="301.36"/><line x1="212.50" y1="312.67" x2="233.40" y2="312.67"/><line x1="212.50" y1="323.98" x2="233.40" y2="323.98"/><line x1="212.50" y1="335.29" x2="233.40" y2="335.29"/><line x1="212.50" y1="346.60" x2="233.40" y2="346.60"/><line x1="212.50" y1="357.91" x2="233.40" y2="357.91"/><line x1="212.50" y1="369.22" x2="233.40" y2="369.22"/><line x1="212.50" y1="380.53" x2="233.40" y2="380.53"/><line x1="212.50" y1="391.84" x2="233.40" y2="391.84"/><line x1="212.50" y1="403.15" x2="233.40" y2="403.15"/><line x1="212.50" y1="414.46" x2="233.40" y2="414.46"/><line x1="212.50" y1="425.77" x2="233.40" y2="425.77"/><line x1="212.50" y1="437.08" x2="233.40" y2="437.08"/><line x1="212.50" y1="448.39" x2="233.40" y2="448.39"/><line x1="233.40" y1="7.30" x2="254.25" y2="7.30"/><line x1="233.40" y1="18.61" x2="254.25" y2="18.61"/><line x1="233.40" y1="29.92" x2="254.25" y2="29.92"/><line x1="233.40" y1="41.23" x2="254.25" y2="41.23"/><line x1="233.40" y1="52.54" x2="254.25" y2="52.54"/><line x1="233.40" y1="63.85" x2="254.25" y2="63.85"/><line x1="233.40" y1="75.16" x2="254.25" y2="75.16"/><line x1="233.40" y1="86.47" x2="254.25" y2="86.47"/><line x1="233.40" y1="97.78" x2="254.25" y2="97.78"/><line x1="233.40" y1="109.09" x2="254.25" y2="109.09"/><line x1="233.40" y1="120.40" x2="254.25" y2="120.40"/><line x1="233.40" y1="131.71" x2="254.25" y2="131.71"/><line x1="233.40" y1="143.02" x2="254.25" y2="143.02"/><line x1="233.40" y1="154.33" x2="254.25" y2="154.33"/><line x1="233.40" y1="165.64" x2="254.25" y2="165.64"/><line x1="233.40" y1="176.95" x2="254.25" y2="176.95"/><line x1="233.40" y1="188.26" x2="254.25" y2="188.26"/><line x1="233.40" y1="199.57" x2="254.25" y2="199.57"/><line x1="233.40" y1="210.88" x2="254.25" y2="210.88"/><line x1="233.40" y1="222.19" x2="254.25" y2="222.19"/><line x1="233.40" y1="233.50" x2="254.25" y2="233.50"/><line x1="233.40" y1="244.81" x2="254.25" y2="244.81"/><line x1="233.40" y1="256.12" x2="254.25" y2="256.12"/><line x1="233.40" y1="267.43" x2="254.25" y2="267.43"/><line x1="233.40" y1="278.74" x2="254.25" y2="278.74"/><line x1="233.40" y1="290.05" x2="254.25" y2="290.05"/><line x1="233.40" y1="301.36" x2="254.25" y2="301.36"/><line x1="233.40" y1="312.67" x2="254.25" y2="312.67"/><line x1="233.40" y1="323.98" x2="254.25" y2="323.98"/><line x1="233.40" y1="335.29" x2="254.25" y2="335.29"/><line x1="233.40" y1="346.60" x2="254.25" y2="346.60"/><line x1="233.40" y1="357.91" x2="254.25" y2="357.91"/><line x1="233.40" y1="369.22" x2="254.25" y2="369.22"/><line x1="233.40" y1="380.53" x2="254.25" y2="380.53"/><line x1="233.40" y1="391.84" x2="254.25" y2="391.84"/><line x1="233.40" y1="403.15" x2="254.25" y2="403.15"/><line x1="233.40" y1="414.46" x2="254.25" y2="414.46"/><line x1="233.40" y1="425.77" x2="254.25" y2="425.77"/><line x1="233.40" y1="437.08" x2="254.25" y2="437.08"/><line x1="233.40" y1="448.39" x2="254.25" y2="448.39"/><line x1="254.25" y1="7.30" x2="274.60" y2="7.30"/><line x1="254.25" y1="18.61" x2="274.60" y2="18.61"/><line x1="254.25" y1="29.92" x2="274.60" y2="29.92"/><line x1="254.25" y1="41.23" x2="274.60" y2="41.23"/><line x1="254.25" y1="52.54" x2="274.60" y2="52.54"/><line x1="254.25" y1="63.85" x2="274.60" y2="63.85"/><line x1="254.25" y1="75.16" x2="274.60" y2="75.16"/><line x1="254.25" y1="86.47" x2="274.60" y2="86.47"/><line x1="254.25" y1="97.78" x2="274.60" y2="97.78"/><line x1="254.25" y1="109.09" x2="274.60" y2="109.09"/><line x1="254.25" y1="120.40" x2="274.60" y2="120.40"/><line x1="254.25" y1="131.71" x2="274.60" y2="131.71"/><line x1="254.25" y1="143.02" x2="274.60" y2="143.02"/><line x1="254.25" y1="154.33" x2="274.60" y2="154.33"/><line x1="254.25" y1="165.64" x2="274.60" y2="165.64"/><line x1="254.25" y1="176.95" x2="274.60" y2="176.95"/><line x1="254.25" y1="188.26" x2="274.60" y2="188.26"/><line x1="254.25" y1="199.57" x2="274.60" y2="199.57"/><line x1="254.25" y1="210.88" x2="274.60" y2="210.88"/><line x1="254.25" y1="222.19" x2="274.60" y2="222.19"/><line x1="254.25" y1="233.50" x2="274.60" y2="233.50"/><line x1="254.25" y1="244.81" x2="274.60" y2="244.81"/><line x1="254.25" y1="256.12" x2="274.60" y2="256.12"/><line x1="254.25" y1="267.43" x2="274.60" y2="267.43"/><line x1="254.25" y1="278.74" x2="274.60" y2="278.74"/><line x1="254.25" y1="290.05" x2="274.60" y2="290.05"/><line x1="254.25" y1="301.36" x2="274.60" y2="301.36"/><line x1="254.25" y1="312.67" x2="274.60" y2="312.67"/><line x1="254.25" y1="323.98" x2="274.60" y2="323.98"/><line x1="254.25" y1="335.29" x2="274.60" y2="335.29"/><line x1="254.25" y1="346.60" x2="274.60" y2="346.60"/><line x1="254.25" y1="357.91" x2="274.60" y2="357.91"/><line x1="254.25" y1="369.22" x2="274.60" y2="369.22"/><line x1="254.25" y1="380.53" x2="274.60" y2="380.53"/><line x1="254.25" y1="391.84" x2="274.60" y2="391.84"/><line x1="254.25" y1="403.15" x2="274.60" y2="403.15"/><line x1="254.25" y1="414.46" x2="274.60" y2="414.46"/><line x1="254.25" y1="425.77" x2="274.60" y2="425.77"/><line x1="254.25" y1="437.08" x2="274.60" y2="437.08"/><line x1="254.25" y1="448.39" x2="274.60" y2="448.39"/></g><g stroke="#b4b4b4" stroke-width="1.1"><line x1="170.60" y1="437.58" x2="170.60" y2="448.39"/><line x1="192.00" y1="437.58" x2="192.00" y2="448.39"/><line x1="212.50" y1="437.58" x2="212.50" y2="448.39"/><line x1="233.40" y1="437.58" x2="233.40" y2="448.39"/><line x1="254.25" y1="437.58" x2="254.25" y2="448.39"/><line x1="274.60" y1="437.58" x2="274.60" y2="448.39"/></g><g stroke="#6a6a6a" stroke-width="0.9" fill="none"><path d="M170.60 437.08L192.00 448.39M192.00 437.08L170.60 448.39"/><path d="M192.00 437.08L212.50 448.39M212.50 437.08L192.00 448.39"/><path d="M212.50 437.08L233.40 448.39M233.40 437.08L212.50 448.39"/><path d="M233.40 437.08L254.25 448.39M254.25 437.08L233.40 448.39"/><path d="M254.25 437.08L274.60 448.39M274.60 437.08L254.25 448.39"/></g><g stroke="#000" stroke-opacity="0.18" stroke-width="1"><line x1="192.00" y1="448.39" x2="192.00" y2="459.70"/><line x1="212.50" y1="448.39" x2="212.50" y2="459.70"/><line x1="233.40" y1="448.39" x2="233.40" y2="459.70"/><line x1="254.25" y1="448.39" x2="254.25" y2="459.70"/></g><g fill="#303030" font-size="8.3" font-weight="normal" font-family="DejaVu Sans, sans-serif" font-stretch="condensed" text-anchor="middle" stroke="#303030" stroke-width="0.3"><text x="181.30" y="434.18" textLength="11.6" lengthAdjust="spacingAndGlyphs">201</text><text x="181.30" y="422.87" textLength="11.6" lengthAdjust="spacingAndGlyphs">301</text><text x="181.30" y="411.56" textLength="11.6" lengthAdjust="spacingAndGlyphs">401</text><text x="181.30" y="400.25" textLength="11.6" lengthAdjust="spacingAndGlyphs">501</text><text x="181.30" y="388.94" textLength="11.6" lengthAdjust="spacingAndGlyphs">601</text><text x="181.30" y="377.62" textLength="11.6" lengthAdjust="spacingAndGlyphs">701</text><text x="181.30" y="366.31" textLength="11.6" lengthAdjust="spacingAndGlyphs">801</text><text x="181.30" y="355.00" textLength="11.6" lengthAdjust="spacingAndGlyphs">901</text><text x="181.30" y="343.69" textLength="15.4" lengthAdjust="spacingAndGlyphs">1001</text><text x="181.30" y="332.38" textLength="15.4" lengthAdjust="spacingAndGlyphs">1101</text><text x="181.30" y="321.07" textLength="15.4" lengthAdjust="spacingAndGlyphs">1201</text><text x="181.30" y="309.76" textLength="15.4" lengthAdjust="spacingAndGlyphs">1301</text><text x="181.30" y="298.45" textLength="15.4" lengthAdjust="spacingAndGlyphs">1401</text><text x="181.30" y="287.14" textLength="15.4" lengthAdjust="spacingAndGlyphs">1501</text><text x="181.30" y="275.83" textLength="15.4" lengthAdjust="spacingAndGlyphs">1601</text><text x="181.30" y="264.52" textLength="15.4" lengthAdjust="spacingAndGlyphs">1701</text><text x="181.30" y="253.22" textLength="15.4" lengthAdjust="spacingAndGlyphs">1801</text><text x="181.30" y="241.91" textLength="15.4" lengthAdjust="spacingAndGlyphs">1901</text><text x="181.30" y="230.60" textLength="15.4" lengthAdjust="spacingAndGlyphs">2001</text><text x="181.30" y="219.29" textLength="15.4" lengthAdjust="spacingAndGlyphs">2101</text><text x="181.30" y="207.98" textLength="15.4" lengthAdjust="spacingAndGlyphs">2201</text><text x="181.30" y="196.67" textLength="15.4" lengthAdjust="spacingAndGlyphs">2301</text><text x="202.25" y="434.18" textLength="11.6" lengthAdjust="spacingAndGlyphs">202</text><text x="202.25" y="422.87" textLength="11.6" lengthAdjust="spacingAndGlyphs">302</text><text x="202.25" y="411.56" textLength="11.6" lengthAdjust="spacingAndGlyphs">402</text><text x="202.25" y="400.25" textLength="11.6" lengthAdjust="spacingAndGlyphs">502</text><text x="202.25" y="388.94" textLength="11.6" lengthAdjust="spacingAndGlyphs">602</text><text x="202.25" y="377.62" textLength="11.6" lengthAdjust="spacingAndGlyphs">702</text><text x="202.25" y="366.31" textLength="11.6" lengthAdjust="spacingAndGlyphs">802</text><text x="202.25" y="355.00" textLength="11.6" lengthAdjust="spacingAndGlyphs">902</text><text x="202.25" y="343.69" textLength="15.4" lengthAdjust="spacingAndGlyphs">1002</text><text x="202.25" y="332.38" textLength="15.4" lengthAdjust="spacingAndGlyphs">1102</text><text x="202.25" y="321.07" textLength="15.4" lengthAdjust="spacingAndGlyphs">1202</text><text x="202.25" y="309.76" textLength="15.4" lengthAdjust="spacingAndGlyphs">1302</text><text x="202.25" y="298.45" textLength="15.4" lengthAdjust="spacingAndGlyphs">1402</text><text x="202.25" y="287.14" textLength="15.4" lengthAdjust="spacingAndGlyphs">1502</text><text x="202.25" y="275.83" textLength="15.4" lengthAdjust="spacingAndGlyphs">1602</text><text x="202.25" y="264.52" textLength="15.4" lengthAdjust="spacingAndGlyphs">1702</text><text x="202.25" y="253.22" textLength="15.4" lengthAdjust="spacingAndGlyphs">1802</text><text x="202.25" y="241.91" textLength="15.4" lengthAdjust="spacingAndGlyphs">1902</text><text x="202.25" y="230.60" textLength="15.4" lengthAdjust="spacingAndGlyphs">2002</text><text x="202.25" y="219.29" textLength="15.4" lengthAdjust="spacingAndGlyphs">2102</text><text x="202.25" y="207.98" textLength="15.4" lengthAdjust="spacingAndGlyphs">2202</text><text x="202.25" y="196.67" textLength="15.4" lengthAdjust="spacingAndGlyphs">2302</text><text x="202.25" y="185.36" textLength="15.4" lengthAdjust="spacingAndGlyphs">2402</text><text x="202.25" y="174.05" textLength="15.4" lengthAdjust="spacingAndGlyphs">2502</text><text x="202.25" y="162.74" textLength="15.4" lengthAdjust="spacingAndGlyphs">2602</text><text x="202.25" y="151.43" textLength="15.4" lengthAdjust="spacingAndGlyphs">2702</text><text x="202.25" y="140.12" textLength="15.4" lengthAdjust="spacingAndGlyphs">2802</text><text x="202.25" y="128.81" textLength="15.4" lengthAdjust="spacingAndGlyphs">2902</text><text x="202.25" y="117.50" textLength="15.4" lengthAdjust="spacingAndGlyphs">3002</text><text x="202.25" y="106.19" textLength="15.4" lengthAdjust="spacingAndGlyphs">3102</text><text x="222.95" y="434.18" textLength="11.6" lengthAdjust="spacingAndGlyphs">203</text><text x="222.95" y="422.87" textLength="11.6" lengthAdjust="spacingAndGlyphs">303</text><text x="222.95" y="411.56" textLength="11.6" lengthAdjust="spacingAndGlyphs">403</text><text x="222.95" y="400.25" textLength="11.6" lengthAdjust="spacingAndGlyphs">503</text><text x="222.95" y="388.94" textLength="11.6" lengthAdjust="spacingAndGlyphs">603</text><text x="222.95" y="377.62" textLength="11.6" lengthAdjust="spacingAndGlyphs">703</text><text x="222.95" y="366.31" textLength="11.6" lengthAdjust="spacingAndGlyphs">803</text><text x="222.95" y="355.00" textLength="11.6" lengthAdjust="spacingAndGlyphs">903</text><text x="222.95" y="343.69" textLength="15.4" lengthAdjust="spacingAndGlyphs">1003</text><text x="222.95" y="332.38" textLength="15.4" lengthAdjust="spacingAndGlyphs">1103</text><text x="222.95" y="321.07" textLength="15.4" lengthAdjust="spacingAndGlyphs">1203</text><text x="222.95" y="309.76" textLength="15.4" lengthAdjust="spacingAndGlyphs">1303</text><text x="222.95" y="298.45" textLength="15.4" lengthAdjust="spacingAndGlyphs">1403</text><text x="222.95" y="287.14" textLength="15.4" lengthAdjust="spacingAndGlyphs">1503</text><text x="222.95" y="275.83" textLength="15.4" lengthAdjust="spacingAndGlyphs">1603</text><text x="222.95" y="264.52" textLength="15.4" lengthAdjust="spacingAndGlyphs">1703</text><text x="222.95" y="253.22" textLength="15.4" lengthAdjust="spacingAndGlyphs">1803</text><text x="222.95" y="241.91" textLength="15.4" lengthAdjust="spacingAndGlyphs">1903</text><text x="222.95" y="230.60" textLength="15.4" lengthAdjust="spacingAndGlyphs">2003</text><text x="222.95" y="219.29" textLength="15.4" lengthAdjust="spacingAndGlyphs">2103</text><text x="222.95" y="207.98" textLength="15.4" lengthAdjust="spacingAndGlyphs">2203</text><text x="222.95" y="196.67" textLength="15.4" lengthAdjust="spacingAndGlyphs">2303</text><text x="222.95" y="185.36" textLength="15.4" lengthAdjust="spacingAndGlyphs">2403</text><text x="222.95" y="174.05" textLength="15.4" lengthAdjust="spacingAndGlyphs">2503</text><text x="222.95" y="162.74" textLength="15.4" lengthAdjust="spacingAndGlyphs">2603</text><text x="222.95" y="151.43" textLength="15.4" lengthAdjust="spacingAndGlyphs">2703</text><text x="222.95" y="140.12" textLength="15.4" lengthAdjust="spacingAndGlyphs">2803</text><text x="222.95" y="128.81" textLength="15.4" lengthAdjust="spacingAndGlyphs">2903</text><text x="222.95" y="117.50" textLength="15.4" lengthAdjust="spacingAndGlyphs">3003</text><text x="222.95" y="106.19" textLength="15.4" lengthAdjust="spacingAndGlyphs">3103</text><text x="243.82" y="434.18" textLength="11.6" lengthAdjust="spacingAndGlyphs">204</text><text x="243.82" y="422.87" textLength="11.6" lengthAdjust="spacingAndGlyphs">304</text><text x="243.82" y="411.56" textLength="11.6" lengthAdjust="spacingAndGlyphs">404</text><text x="243.82" y="400.25" textLength="11.6" lengthAdjust="spacingAndGlyphs">504</text><text x="243.82" y="388.94" textLength="11.6" lengthAdjust="spacingAndGlyphs">604</text><text x="243.82" y="377.62" textLength="11.6" lengthAdjust="spacingAndGlyphs">704</text><text x="243.82" y="366.31" textLength="11.6" lengthAdjust="spacingAndGlyphs">804</text><text x="243.82" y="355.00" textLength="11.6" lengthAdjust="spacingAndGlyphs">904</text><text x="243.82" y="343.69" textLength="15.4" lengthAdjust="spacingAndGlyphs">1004</text><text x="243.82" y="332.38" textLength="15.4" lengthAdjust="spacingAndGlyphs">1104</text><text x="243.82" y="321.07" textLength="15.4" lengthAdjust="spacingAndGlyphs">1204</text><text x="243.82" y="309.76" textLength="15.4" lengthAdjust="spacingAndGlyphs">1304</text><text x="243.82" y="298.45" textLength="15.4" lengthAdjust="spacingAndGlyphs">1404</text><text x="243.82" y="287.14" textLength="15.4" lengthAdjust="spacingAndGlyphs">1504</text><text x="243.82" y="275.83" textLength="15.4" lengthAdjust="spacingAndGlyphs">1604</text><text x="243.82" y="264.52" textLength="15.4" lengthAdjust="spacingAndGlyphs">1704</text><text x="243.82" y="253.22" textLength="15.4" lengthAdjust="spacingAndGlyphs">1804</text><text x="243.82" y="241.91" textLength="15.4" lengthAdjust="spacingAndGlyphs">1904</text><text x="243.82" y="230.60" textLength="15.4" lengthAdjust="spacingAndGlyphs">2004</text><text x="243.82" y="219.29" textLength="15.4" lengthAdjust="spacingAndGlyphs">2104</text><text x="243.82" y="207.98" textLength="15.4" lengthAdjust="spacingAndGlyphs">2204</text><text x="243.82" y="196.67" textLength="15.4" lengthAdjust="spacingAndGlyphs">2304</text><text x="243.82" y="185.36" textLength="15.4" lengthAdjust="spacingAndGlyphs">2404</text><text x="243.82" y="174.05" textLength="15.4" lengthAdjust="spacingAndGlyphs">2504</text><text x="243.82" y="162.74" textLength="15.4" lengthAdjust="spacingAndGlyphs">2604</text><text x="243.82" y="151.43" textLength="15.4" lengthAdjust="spacingAndGlyphs">2704</text><text x="243.82" y="140.12" textLength="15.4" lengthAdjust="spacingAndGlyphs">2804</text><text x="243.82" y="128.81" textLength="15.4" lengthAdjust="spacingAndGlyphs">2904</text><text x="243.82" y="117.50" textLength="15.4" lengthAdjust="spacingAndGlyphs">3004</text><text x="243.82" y="106.19" textLength="15.4" lengthAdjust="spacingAndGlyphs">3104</text><text x="243.82" y="94.88" textLength="15.4" lengthAdjust="spacingAndGlyphs">3204</text><text x="243.82" y="83.56" textLength="15.4" lengthAdjust="spacingAndGlyphs">3304</text><text x="243.82" y="72.25" textLength="15.4" lengthAdjust="spacingAndGlyphs">3404</text><text x="243.82" y="60.95" textLength="15.4" lengthAdjust="spacingAndGlyphs">3504</text><text x="243.82" y="49.63" textLength="15.4" lengthAdjust="spacingAndGlyphs">3604</text><text x="243.82" y="38.33" textLength="15.4" lengthAdjust="spacingAndGlyphs">3704</text><text x="243.82" y="27.02" textLength="15.4" lengthAdjust="spacingAndGlyphs">3804</text><text x="243.82" y="15.71" textLength="15.4" lengthAdjust="spacingAndGlyphs">3904</text><text x="264.43" y="434.18" textLength="11.6" lengthAdjust="spacingAndGlyphs">205</text><text x="264.43" y="422.87" textLength="11.6" lengthAdjust="spacingAndGlyphs">305</text><text x="264.43" y="411.56" textLength="11.6" lengthAdjust="spacingAndGlyphs">405</text><text x="264.43" y="400.25" textLength="11.6" lengthAdjust="spacingAndGlyphs">505</text><text x="264.43" y="388.94" textLength="11.6" lengthAdjust="spacingAndGlyphs">605</text><text x="264.43" y="377.62" textLength="11.6" lengthAdjust="spacingAndGlyphs">705</text><text x="264.43" y="366.31" textLength="11.6" lengthAdjust="spacingAndGlyphs">805</text><text x="264.43" y="355.00" textLength="11.6" lengthAdjust="spacingAndGlyphs">905</text><text x="264.43" y="343.69" textLength="15.4" lengthAdjust="spacingAndGlyphs">1005</text><text x="264.43" y="332.38" textLength="15.4" lengthAdjust="spacingAndGlyphs">1105</text><text x="264.43" y="321.07" textLength="15.4" lengthAdjust="spacingAndGlyphs">1205</text><text x="264.43" y="309.76" textLength="15.4" lengthAdjust="spacingAndGlyphs">1305</text><text x="264.43" y="298.45" textLength="15.4" lengthAdjust="spacingAndGlyphs">1405</text><text x="264.43" y="287.14" textLength="15.4" lengthAdjust="spacingAndGlyphs">1505</text><text x="264.43" y="275.83" textLength="15.4" lengthAdjust="spacingAndGlyphs">1605</text><text x="264.43" y="264.52" textLength="15.4" lengthAdjust="spacingAndGlyphs">1705</text><text x="264.43" y="253.22" textLength="15.4" lengthAdjust="spacingAndGlyphs">1805</text><text x="264.43" y="241.91" textLength="15.4" lengthAdjust="spacingAndGlyphs">1905</text><text x="264.43" y="230.60" textLength="15.4" lengthAdjust="spacingAndGlyphs">2005</text><text x="264.43" y="219.29" textLength="15.4" lengthAdjust="spacingAndGlyphs">2105</text><text x="264.43" y="207.98" textLength="15.4" lengthAdjust="spacingAndGlyphs">2205</text><text x="264.43" y="196.67" textLength="15.4" lengthAdjust="spacingAndGlyphs">2305</text><text x="264.43" y="185.36" textLength="15.4" lengthAdjust="spacingAndGlyphs">2405</text><text x="264.43" y="174.05" textLength="15.4" lengthAdjust="spacingAndGlyphs">2505</text><text x="264.43" y="162.74" textLength="15.4" lengthAdjust="spacingAndGlyphs">2605</text><text x="264.43" y="151.43" textLength="15.4" lengthAdjust="spacingAndGlyphs">2705</text><text x="264.43" y="140.12" textLength="15.4" lengthAdjust="spacingAndGlyphs">2805</text><text x="264.43" y="128.81" textLength="15.4" lengthAdjust="spacingAndGlyphs">2905</text><text x="264.43" y="117.50" textLength="15.4" lengthAdjust="spacingAndGlyphs">3005</text><text x="264.43" y="106.19" textLength="15.4" lengthAdjust="spacingAndGlyphs">3105</text><text x="264.43" y="94.88" textLength="15.4" lengthAdjust="spacingAndGlyphs">3205</text><text x="264.43" y="83.56" textLength="15.4" lengthAdjust="spacingAndGlyphs">3305</text><text x="264.43" y="72.25" textLength="15.4" lengthAdjust="spacingAndGlyphs">3405</text><text x="264.43" y="60.95" textLength="15.4" lengthAdjust="spacingAndGlyphs">3505</text><text x="264.43" y="49.63" textLength="15.4" lengthAdjust="spacingAndGlyphs">3605</text><text x="264.43" y="38.33" textLength="15.4" lengthAdjust="spacingAndGlyphs">3705</text><text x="264.43" y="27.02" textLength="15.4" lengthAdjust="spacingAndGlyphs">3805</text><text x="264.43" y="15.71" textLength="15.4" lengthAdjust="spacingAndGlyphs">3905</text></g><g fill="#fff" stroke="#fff" stroke-width="0.2" font-size="8.6" font-family="DejaVu Sans, sans-serif" font-stretch="condensed" text-anchor="middle"><text x="181.30" y="456.94" textLength="12.0" lengthAdjust="spacingAndGlyphs">84A</text><text x="202.25" y="456.94" textLength="12.0" lengthAdjust="spacingAndGlyphs">84B</text><text x="222.95" y="456.94" textLength="12.0" lengthAdjust="spacingAndGlyphs">84A</text><text x="243.82" y="456.94" textLength="16.0" lengthAdjust="spacingAndGlyphs">122A</text><text x="264.43" y="456.94" textLength="16.0" lengthAdjust="spacingAndGlyphs">122B</text></g><rect x="170.60" y="459.70" width="104.00" height="11.71" fill="#3d434a"/><text x="222.60" y="468.36" fill="#f0f0f0" font-size="8.8" font-weight="bold" text-anchor="middle"><tspan textLength="12.6" lengthAdjust="spacingAndGlyphs">107</tspan><tspan font-size="6.8" font-weight="normal" stroke="#f0f0f0" stroke-width="0.25">동</tspan></text><g><rect x="294.45" y="7.30" width="20.95" height="429.78" fill="#d6b9db"/><rect x="294.45" y="448.39" width="21.25" height="11.31" fill="#8f2391"/><rect x="315.40" y="7.30" width="20.20" height="429.78" fill="#d4e0ef"/><rect x="315.40" y="448.39" width="20.50" height="11.31" fill="#6fa7da"/><rect x="335.60" y="7.30" width="21.40" height="429.78" fill="#fcdfb4"/><rect x="335.60" y="448.39" width="21.70" height="11.31" fill="#f7a01c"/><rect x="357.00" y="7.30" width="20.50" height="429.78" fill="#f9cba9"/><rect x="357.00" y="448.39" width="20.80" height="11.31" fill="#f26b21"/><rect x="377.50" y="7.30" width="20.95" height="429.78" fill="#fcdfb4"/><rect x="377.50" y="448.39" width="20.95" height="11.31" fill="#f7a01c"/></g><g stroke="#000" stroke-opacity="0.4" stroke-width="1"><line x1="294.45" y1="6.80" x2="294.45" y2="437.08"/><line x1="315.40" y1="6.80" x2="315.40" y2="437.08"/><line x1="335.60" y1="6.80" x2="335.60" y2="437.08"/><line x1="357.00" y1="6.80" x2="357.00" y2="437.08"/><line x1="377.50" y1="6.80" x2="377.50" y2="437.08"/><line x1="398.45" y1="6.80" x2="398.45" y2="437.08"/><line x1="294.45" y1="7.30" x2="315.40" y2="7.30"/><line x1="294.45" y1="18.61" x2="315.40" y2="18.61"/><line x1="294.45" y1="29.92" x2="315.40" y2="29.92"/><line x1="294.45" y1="41.23" x2="315.40" y2="41.23"/><line x1="294.45" y1="52.54" x2="315.40" y2="52.54"/><line x1="294.45" y1="63.85" x2="315.40" y2="63.85"/><line x1="294.45" y1="75.16" x2="315.40" y2="75.16"/><line x1="294.45" y1="86.47" x2="315.40" y2="86.47"/><line x1="294.45" y1="97.78" x2="315.40" y2="97.78"/><line x1="294.45" y1="109.09" x2="315.40" y2="109.09"/><line x1="294.45" y1="120.40" x2="315.40" y2="120.40"/><line x1="294.45" y1="131.71" x2="315.40" y2="131.71"/><line x1="294.45" y1="143.02" x2="315.40" y2="143.02"/><line x1="294.45" y1="154.33" x2="315.40" y2="154.33"/><line x1="294.45" y1="165.64" x2="315.40" y2="165.64"/><line x1="294.45" y1="176.95" x2="315.40" y2="176.95"/><line x1="294.45" y1="188.26" x2="315.40" y2="188.26"/><line x1="294.45" y1="199.57" x2="315.40" y2="199.57"/><line x1="294.45" y1="210.88" x2="315.40" y2="210.88"/><line x1="294.45" y1="222.19" x2="315.40" y2="222.19"/><line x1="294.45" y1="233.50" x2="315.40" y2="233.50"/><line x1="294.45" y1="244.81" x2="315.40" y2="244.81"/><line x1="294.45" y1="256.12" x2="315.40" y2="256.12"/><line x1="294.45" y1="267.43" x2="315.40" y2="267.43"/><line x1="294.45" y1="278.74" x2="315.40" y2="278.74"/><line x1="294.45" y1="290.05" x2="315.40" y2="290.05"/><line x1="294.45" y1="301.36" x2="315.40" y2="301.36"/><line x1="294.45" y1="312.67" x2="315.40" y2="312.67"/><line x1="294.45" y1="323.98" x2="315.40" y2="323.98"/><line x1="294.45" y1="335.29" x2="315.40" y2="335.29"/><line x1="294.45" y1="346.60" x2="315.40" y2="346.60"/><line x1="294.45" y1="357.91" x2="315.40" y2="357.91"/><line x1="294.45" y1="369.22" x2="315.40" y2="369.22"/><line x1="294.45" y1="380.53" x2="315.40" y2="380.53"/><line x1="294.45" y1="391.84" x2="315.40" y2="391.84"/><line x1="294.45" y1="403.15" x2="315.40" y2="403.15"/><line x1="294.45" y1="414.46" x2="315.40" y2="414.46"/><line x1="294.45" y1="425.77" x2="315.40" y2="425.77"/><line x1="294.45" y1="437.08" x2="315.40" y2="437.08"/><line x1="294.45" y1="448.39" x2="315.40" y2="448.39"/><line x1="315.40" y1="7.30" x2="335.60" y2="7.30"/><line x1="315.40" y1="18.61" x2="335.60" y2="18.61"/><line x1="315.40" y1="29.92" x2="335.60" y2="29.92"/><line x1="315.40" y1="41.23" x2="335.60" y2="41.23"/><line x1="315.40" y1="52.54" x2="335.60" y2="52.54"/><line x1="315.40" y1="63.85" x2="335.60" y2="63.85"/><line x1="315.40" y1="75.16" x2="335.60" y2="75.16"/><line x1="315.40" y1="86.47" x2="335.60" y2="86.47"/><line x1="315.40" y1="97.78" x2="335.60" y2="97.78"/><line x1="315.40" y1="109.09" x2="335.60" y2="109.09"/><line x1="315.40" y1="120.40" x2="335.60" y2="120.40"/><line x1="315.40" y1="131.71" x2="335.60" y2="131.71"/><line x1="315.40" y1="143.02" x2="335.60" y2="143.02"/><line x1="315.40" y1="154.33" x2="335.60" y2="154.33"/><line x1="315.40" y1="165.64" x2="335.60" y2="165.64"/><line x1="315.40" y1="176.95" x2="335.60" y2="176.95"/><line x1="315.40" y1="188.26" x2="335.60" y2="188.26"/><line x1="315.40" y1="199.57" x2="335.60" y2="199.57"/><line x1="315.40" y1="210.88" x2="335.60" y2="210.88"/><line x1="315.40" y1="222.19" x2="335.60" y2="222.19"/><line x1="315.40" y1="233.50" x2="335.60" y2="233.50"/><line x1="315.40" y1="244.81" x2="335.60" y2="244.81"/><line x1="315.40" y1="256.12" x2="335.60" y2="256.12"/><line x1="315.40" y1="267.43" x2="335.60" y2="267.43"/><line x1="315.40" y1="278.74" x2="335.60" y2="278.74"/><line x1="315.40" y1="290.05" x2="335.60" y2="290.05"/><line x1="315.40" y1="301.36" x2="335.60" y2="301.36"/><line x1="315.40" y1="312.67" x2="335.60" y2="312.67"/><line x1="315.40" y1="323.98" x2="335.60" y2="323.98"/><line x1="315.40" y1="335.29" x2="335.60" y2="335.29"/><line x1="315.40" y1="346.60" x2="335.60" y2="346.60"/><line x1="315.40" y1="357.91" x2="335.60" y2="357.91"/><line x1="315.40" y1="369.22" x2="335.60" y2="369.22"/><line x1="315.40" y1="380.53" x2="335.60" y2="380.53"/><line x1="315.40" y1="391.84" x2="335.60" y2="391.84"/><line x1="315.40" y1="403.15" x2="335.60" y2="403.15"/><line x1="315.40" y1="414.46" x2="335.60" y2="414.46"/><line x1="315.40" y1="425.77" x2="335.60" y2="425.77"/><line x1="315.40" y1="437.08" x2="335.60" y2="437.08"/><line x1="315.40" y1="448.39" x2="335.60" y2="448.39"/><line x1="335.60" y1="7.30" x2="357.00" y2="7.30"/><line x1="335.60" y1="18.61" x2="357.00" y2="18.61"/><line x1="335.60" y1="29.92" x2="357.00" y2="29.92"/><line x1="335.60" y1="41.23" x2="357.00" y2="41.23"/><line x1="335.60" y1="52.54" x2="357.00" y2="52.54"/><line x1="335.60" y1="63.85" x2="357.00" y2="63.85"/><line x1="335.60" y1="75.16" x2="357.00" y2="75.16"/><line x1="335.60" y1="86.47" x2="357.00" y2="86.47"/><line x1="335.60" y1="97.78" x2="357.00" y2="97.78"/><line x1="335.60" y1="109.09" x2="357.00" y2="109.09"/><line x1="335.60" y1="120.40" x2="357.00" y2="120.40"/><line x1="335.60" y1="131.71" x2="357.00" y2="131.71"/><line x1="335.60" y1="143.02" x2="357.00" y2="143.02"/><line x1="335.60" y1="154.33" x2="357.00" y2="154.33"/><line x1="335.60" y1="165.64" x2="357.00" y2="165.64"/><line x1="335.60" y1="176.95" x2="357.00" y2="176.95"/><line x1="335.60" y1="188.26" x2="357.00" y2="188.26"/><line x1="335.60" y1="199.57" x2="357.00" y2="199.57"/><line x1="335.60" y1="210.88" x2="357.00" y2="210.88"/><line x1="335.60" y1="222.19" x2="357.00" y2="222.19"/><line x1="335.60" y1="233.50" x2="357.00" y2="233.50"/><line x1="335.60" y1="244.81" x2="357.00" y2="244.81"/><line x1="335.60" y1="256.12" x2="357.00" y2="256.12"/><line x1="335.60" y1="267.43" x2="357.00" y2="267.43"/><line x1="335.60" y1="278.74" x2="357.00" y2="278.74"/><line x1="335.60" y1="290.05" x2="357.00" y2="290.05"/><line x1="335.60" y1="301.36" x2="357.00" y2="301.36"/><line x1="335.60" y1="312.67" x2="357.00" y2="312.67"/><line x1="335.60" y1="323.98" x2="357.00" y2="323.98"/><line x1="335.60" y1="335.29" x2="357.00" y2="335.29"/><line x1="335.60" y1="346.60" x2="357.00" y2="346.60"/><line x1="335.60" y1="357.91" x2="357.00" y2="357.91"/><line x1="335.60" y1="369.22" x2="357.00" y2="369.22"/><line x1="335.60" y1="380.53" x2="357.00" y2="380.53"/><line x1="335.60" y1="391.84" x2="357.00" y2="391.84"/><line x1="335.60" y1="403.15" x2="357.00" y2="403.15"/><line x1="335.60" y1="414.46" x2="357.00" y2="414.46"/><line x1="335.60" y1="425.77" x2="357.00" y2="425.77"/><line x1="335.60" y1="437.08" x2="357.00" y2="437.08"/><line x1="335.60" y1="448.39" x2="357.00" y2="448.39"/><line x1="357.00" y1="7.30" x2="377.50" y2="7.30"/><line x1="357.00" y1="18.61" x2="377.50" y2="18.61"/><line x1="357.00" y1="29.92" x2="377.50" y2="29.92"/><line x1="357.00" y1="41.23" x2="377.50" y2="41.23"/><line x1="357.00" y1="52.54" x2="377.50" y2="52.54"/><line x1="357.00" y1="63.85" x2="377.50" y2="63.85"/><line x1="357.00" y1="75.16" x2="377.50" y2="75.16"/><line x1="357.00" y1="86.47" x2="377.50" y2="86.47"/><line x1="357.00" y1="97.78" x2="377.50" y2="97.78"/><line x1="357.00" y1="109.09" x2="377.50" y2="109.09"/><line x1="357.00" y1="120.40" x2="377.50" y2="120.40"/><line x1="357.00" y1="131.71" x2="377.50" y2="131.71"/><line x1="357.00" y1="143.02" x2="377.50" y2="143.02"/><line x1="357.00" y1="154.33" x2="377.50" y2="154.33"/><line x1="357.00" y1="165.64" x2="377.50" y2="165.64"/><line x1="357.00" y1="176.95" x2="377.50" y2="176.95"/><line x1="357.00" y1="188.26" x2="377.50" y2="188.26"/><line x1="357.00" y1="199.57" x2="377.50" y2="199.57"/><line x1="357.00" y1="210.88" x2="377.50" y2="210.88"/><line x1="357.00" y1="222.19" x2="377.50" y2="222.19"/><line x1="357.00" y1="233.50" x2="377.50" y2="233.50"/><line x1="357.00" y1="244.81" x2="377.50" y2="244.81"/><line x1="357.00" y1="256.12" x2="377.50" y2="256.12"/><line x1="357.00" y1="267.43" x2="377.50" y2="267.43"/><line x1="357.00" y1="278.74" x2="377.50" y2="278.74"/><line x1="357.00" y1="290.05" x2="377.50" y2="290.05"/><line x1="357.00" y1="301.36" x2="377.50" y2="301.36"/><line x1="357.00" y1="312.67" x2="377.50" y2="312.67"/><line x1="357.00" y1="323.98" x2="377.50" y2="323.98"/><line x1="357.00" y1="335.29" x2="377.50" y2="335.29"/><line x1="357.00" y1="346.60" x2="377.50" y2="346.60"/><line x1="357.00" y1="357.91" x2="377.50" y2="357.91"/><line x1="357.00" y1="369.22" x2="377.50" y2="369.22"/><line x1="357.00" y1="380.53" x2="377.50" y2="380.53"/><line x1="357.00" y1="391.84" x2="377.50" y2="391.84"/><line x1="357.00" y1="403.15" x2="377.50" y2="403.15"/><line x1="357.00" y1="414.46" x2="377.50" y2="414.46"/><line x1="357.00" y1="425.77" x2="377.50" y2="425.77"/><line x1="357.00" y1="437.08" x2="377.50" y2="437.08"/><line x1="357.00" y1="448.39" x2="377.50" y2="448.39"/><line x1="377.50" y1="7.30" x2="398.45" y2="7.30"/><line x1="377.50" y1="18.61" x2="398.45" y2="18.61"/><line x1="377.50" y1="29.92" x2="398.45" y2="29.92"/><line x1="377.50" y1="41.23" x2="398.45" y2="41.23"/><line x1="377.50" y1="52.54" x2="398.45" y2="52.54"/><line x1="377.50" y1="63.85" x2="398.45" y2="63.85"/><line x1="377.50" y1="75.16" x2="398.45" y2="75.16"/><line x1="377.50" y1="86.47" x2="398.45" y2="86.47"/><line x1="377.50" y1="97.78" x2="398.45" y2="97.78"/><line x1="377.50" y1="109.09" x2="398.45" y2="109.09"/><line x1="377.50" y1="120.40" x2="398.45" y2="120.40"/><line x1="377.50" y1="131.71" x2="398.45" y2="131.71"/><line x1="377.50" y1="143.02" x2="398.45" y2="143.02"/><line x1="377.50" y1="154.33" x2="398.45" y2="154.33"/><line x1="377.50" y1="165.64" x2="398.45" y2="165.64"/><line x1="377.50" y1="176.95" x2="398.45" y2="176.95"/><line x1="377.50" y1="188.26" x2="398.45" y2="188.26"/><line x1="377.50" y1="199.57" x2="398.45" y2="199.57"/><line x1="377.50" y1="210.88" x2="398.45" y2="210.88"/><line x1="377.50" y1="222.19" x2="398.45" y2="222.19"/><line x1="377.50" y1="233.50" x2="398.45" y2="233.50"/><line x1="377.50" y1="244.81" x2="398.45" y2="244.81"/><line x1="377.50" y1="256.12" x2="398.45" y2="256.12"/><line x1="377.50" y1="267.43" x2="398.45" y2="267.43"/><line x1="377.50" y1="278.74" x2="398.45" y2="278.74"/><line x1="377.50" y1="290.05" x2="398.45" y2="290.05"/><line x1="377.50" y1="301.36" x2="398.45" y2="301.36"/><line x1="377.50" y1="312.67" x2="398.45" y2="312.67"/><line x1="377.50" y1="323.98" x2="398.45" y2="323.98"/><line x1="377.50" y1="335.29" x2="398.45" y2="335.29"/><line x1="377.50" y1="346.60" x2="398.45" y2="346.60"/><line x1="377.50" y1="357.91" x2="398.45" y2="357.91"/><line x1="377.50" y1="369.22" x2="398.45" y2="369.22"/><line x1="377.50" y1="380.53" x2="398.45" y2="380.53"/><line x1="377.50" y1="391.84" x2="398.45" y2="391.84"/><line x1="377.50" y1="403.15" x2="398.45" y2="403.15"/><line x1="377.50" y1="414.46" x2="398.45" y2="414.46"/><line x1="377.50" y1="425.77" x2="398.45" y2="425.77"/><line x1="377.50" y1="437.08" x2="398.45" y2="437.08"/><line x1="377.50" y1="448.39" x2="398.45" y2="448.39"/></g><g stroke="#b4b4b4" stroke-width="1.1"><line x1="294.45" y1="437.58" x2="294.45" y2="448.39"/><line x1="315.40" y1="437.58" x2="315.40" y2="448.39"/><line x1="335.60" y1="437.58" x2="335.60" y2="448.39"/><line x1="357.00" y1="437.58" x2="357.00" y2="448.39"/><line x1="377.50" y1="437.58" x2="377.50" y2="448.39"/><line x1="398.45" y1="437.58" x2="398.45" y2="448.39"/></g><g stroke="#6a6a6a" stroke-width="0.9" fill="none"><path d="M294.45 437.08L315.40 448.39M315.40 437.08L294.45 448.39"/><path d="M315.40 437.08L335.60 448.39M335.60 437.08L315.40 448.39"/><path d="M335.60 437.08L357.00 448.39M357.00 437.08L335.60 448.39"/><path d="M357.00 437.08L377.50 448.39M377.50 437.08L357.00 448.39"/><path d="M377.50 437.08L398.45 448.39M398.45 437.08L377.50 448.39"/></g><g stroke="#000" stroke-opacity="0.18" stroke-width="1"><line x1="315.40" y1="448.39" x2="315.40" y2="459.70"/><line x1="335.60" y1="448.39" x2="335.60" y2="459.70"/><line x1="357.00" y1="448.39" x2="357.00" y2="459.70"/><line x1="377.50" y1="448.39" x2="377.50" y2="459.70"/></g><g fill="#303030" font-size="8.3" font-weight="normal" font-family="DejaVu Sans, sans-serif" font-stretch="condensed" text-anchor="middle" stroke="#303030" stroke-width="0.3"><text x="304.92" y="434.18" textLength="11.6" lengthAdjust="spacingAndGlyphs">201</text><text x="304.92" y="422.87" textLength="11.6" lengthAdjust="spacingAndGlyphs">301</text><text x="304.92" y="411.56" textLength="11.6" lengthAdjust="spacingAndGlyphs">401</text><text x="304.92" y="400.25" textLength="11.6" lengthAdjust="spacingAndGlyphs">501</text><text x="304.92" y="388.94" textLength="11.6" lengthAdjust="spacingAndGlyphs">601</text><text x="304.92" y="377.62" textLength="11.6" lengthAdjust="spacingAndGlyphs">701</text><text x="304.92" y="366.31" textLength="11.6" lengthAdjust="spacingAndGlyphs">801</text><text x="304.92" y="355.00" textLength="11.6" lengthAdjust="spacingAndGlyphs">901</text><text x="304.92" y="343.69" textLength="15.4" lengthAdjust="spacingAndGlyphs">1001</text><text x="304.92" y="332.38" textLength="15.4" lengthAdjust="spacingAndGlyphs">1101</text><text x="304.92" y="321.07" textLength="15.4" lengthAdjust="spacingAndGlyphs">1201</text><text x="304.92" y="309.76" textLength="15.4" lengthAdjust="spacingAndGlyphs">1301</text><text x="304.92" y="298.45" textLength="15.4" lengthAdjust="spacingAndGlyphs">1401</text><text x="304.92" y="287.14" textLength="15.4" lengthAdjust="spacingAndGlyphs">1501</text><text x="304.92" y="275.83" textLength="15.4" lengthAdjust="spacingAndGlyphs">1601</text><text x="304.92" y="264.52" textLength="15.4" lengthAdjust="spacingAndGlyphs">1701</text><text x="304.92" y="253.22" textLength="15.4" lengthAdjust="spacingAndGlyphs">1801</text><text x="304.92" y="241.91" textLength="15.4" lengthAdjust="spacingAndGlyphs">1901</text><text x="304.92" y="230.60" textLength="15.4" lengthAdjust="spacingAndGlyphs">2001</text><text x="304.92" y="219.29" textLength="15.4" lengthAdjust="spacingAndGlyphs">2101</text><text x="304.92" y="207.98" textLength="15.4" lengthAdjust="spacingAndGlyphs">2201</text><text x="304.92" y="196.67" textLength="15.4" lengthAdjust="spacingAndGlyphs">2301</text><text x="304.92" y="185.36" textLength="15.4" lengthAdjust="spacingAndGlyphs">2401</text><text x="304.92" y="174.05" textLength="15.4" lengthAdjust="spacingAndGlyphs">2501</text><text x="304.92" y="162.74" textLength="15.4" lengthAdjust="spacingAndGlyphs">2601</text><text x="304.92" y="151.43" textLength="15.4" lengthAdjust="spacingAndGlyphs">2701</text><text x="304.92" y="140.12" textLength="15.4" lengthAdjust="spacingAndGlyphs">2801</text><text x="304.92" y="128.81" textLength="15.4" lengthAdjust="spacingAndGlyphs">2901</text><text x="304.92" y="117.50" textLength="15.4" lengthAdjust="spacingAndGlyphs">3001</text><text x="304.92" y="106.19" textLength="15.4" lengthAdjust="spacingAndGlyphs">3101</text><text x="304.92" y="94.88" textLength="15.4" lengthAdjust="spacingAndGlyphs">3201</text><text x="304.92" y="83.56" textLength="15.4" lengthAdjust="spacingAndGlyphs">3301</text><text x="304.92" y="72.25" textLength="15.4" lengthAdjust="spacingAndGlyphs">3401</text><text x="304.92" y="60.95" textLength="15.4" lengthAdjust="spacingAndGlyphs">3501</text><text x="304.92" y="49.63" textLength="15.4" lengthAdjust="spacingAndGlyphs">3601</text><text x="304.92" y="38.33" textLength="15.4" lengthAdjust="spacingAndGlyphs">3701</text><text x="304.92" y="27.02" textLength="15.4" lengthAdjust="spacingAndGlyphs">3801</text><text x="304.92" y="15.71" textLength="15.4" lengthAdjust="spacingAndGlyphs">3901</text><text x="325.50" y="434.18" textLength="11.6" lengthAdjust="spacingAndGlyphs">202</text><text x="325.50" y="422.87" textLength="11.6" lengthAdjust="spacingAndGlyphs">302</text><text x="325.50" y="411.56" textLength="11.6" lengthAdjust="spacingAndGlyphs">402</text><text x="325.50" y="400.25" textLength="11.6" lengthAdjust="spacingAndGlyphs">502</text><text x="325.50" y="388.94" textLength="11.6" lengthAdjust="spacingAndGlyphs">602</text><text x="325.50" y="377.62" textLength="11.6" lengthAdjust="spacingAndGlyphs">702</text><text x="325.50" y="366.31" textLength="11.6" lengthAdjust="spacingAndGlyphs">802</text><text x="325.50" y="355.00" textLength="11.6" lengthAdjust="spacingAndGlyphs">902</text><text x="325.50" y="343.69" textLength="15.4" lengthAdjust="spacingAndGlyphs">1002</text><text x="325.50" y="332.38" textLength="15.4" lengthAdjust="spacingAndGlyphs">1102</text><text x="325.50" y="321.07" textLength="15.4" lengthAdjust="spacingAndGlyphs">1202</text><text x="325.50" y="309.76" textLength="15.4" lengthAdjust="spacingAndGlyphs">1302</text><text x="325.50" y="298.45" textLength="15.4" lengthAdjust="spacingAndGlyphs">1402</text><text x="325.50" y="287.14" textLength="15.4" lengthAdjust="spacingAndGlyphs">1502</text><text x="325.50" y="275.83" textLength="15.4" lengthAdjust="spacingAndGlyphs">1602</text><text x="325.50" y="264.52" textLength="15.4" lengthAdjust="spacingAndGlyphs">1702</text><text x="325.50" y="253.22" textLength="15.4" lengthAdjust="spacingAndGlyphs">1802</text><text x="325.50" y="241.91" textLength="15.4" lengthAdjust="spacingAndGlyphs">1902</text><text x="325.50" y="230.60" textLength="15.4" lengthAdjust="spacingAndGlyphs">2002</text><text x="325.50" y="219.29" textLength="15.4" lengthAdjust="spacingAndGlyphs">2102</text><text x="325.50" y="207.98" textLength="15.4" lengthAdjust="spacingAndGlyphs">2202</text><text x="325.50" y="196.67" textLength="15.4" lengthAdjust="spacingAndGlyphs">2302</text><text x="325.50" y="185.36" textLength="15.4" lengthAdjust="spacingAndGlyphs">2402</text><text x="325.50" y="174.05" textLength="15.4" lengthAdjust="spacingAndGlyphs">2502</text><text x="325.50" y="162.74" textLength="15.4" lengthAdjust="spacingAndGlyphs">2602</text><text x="325.50" y="151.43" textLength="15.4" lengthAdjust="spacingAndGlyphs">2702</text><text x="325.50" y="140.12" textLength="15.4" lengthAdjust="spacingAndGlyphs">2802</text><text x="325.50" y="128.81" textLength="15.4" lengthAdjust="spacingAndGlyphs">2902</text><text x="325.50" y="117.50" textLength="15.4" lengthAdjust="spacingAndGlyphs">3002</text><text x="325.50" y="106.19" textLength="15.4" lengthAdjust="spacingAndGlyphs">3102</text><text x="325.50" y="94.88" textLength="15.4" lengthAdjust="spacingAndGlyphs">3202</text><text x="325.50" y="83.56" textLength="15.4" lengthAdjust="spacingAndGlyphs">3302</text><text x="325.50" y="72.25" textLength="15.4" lengthAdjust="spacingAndGlyphs">3402</text><text x="325.50" y="60.95" textLength="15.4" lengthAdjust="spacingAndGlyphs">3502</text><text x="325.50" y="49.63" textLength="15.4" lengthAdjust="spacingAndGlyphs">3602</text><text x="325.50" y="38.33" textLength="15.4" lengthAdjust="spacingAndGlyphs">3702</text><text x="325.50" y="27.02" textLength="15.4" lengthAdjust="spacingAndGlyphs">3802</text><text x="325.50" y="15.71" textLength="15.4" lengthAdjust="spacingAndGlyphs">3902</text><text x="346.30" y="434.18" textLength="11.6" lengthAdjust="spacingAndGlyphs">203</text><text x="346.30" y="422.87" textLength="11.6" lengthAdjust="spacingAndGlyphs">303</text><text x="346.30" y="411.56" textLength="11.6" lengthAdjust="spacingAndGlyphs">403</text><text x="346.30" y="400.25" textLength="11.6" lengthAdjust="spacingAndGlyphs">503</text><text x="346.30" y="388.94" textLength="11.6" lengthAdjust="spacingAndGlyphs">603</text><text x="346.30" y="377.62" textLength="11.6" lengthAdjust="spacingAndGlyphs">703</text><text x="346.30" y="366.31" textLength="11.6" lengthAdjust="spacingAndGlyphs">803</text><text x="346.30" y="355.00" textLength="11.6" lengthAdjust="spacingAndGlyphs">903</text><text x="346.30" y="343.69" textLength="15.4" lengthAdjust="spacingAndGlyphs">1003</text><text x="346.30" y="332.38" textLength="15.4" lengthAdjust="spacingAndGlyphs">1103</text><text x="346.30" y="321.07" textLength="15.4" lengthAdjust="spacingAndGlyphs">1203</text><text x="346.30" y="309.76" textLength="15.4" lengthAdjust="spacingAndGlyphs">1303</text><text x="346.30" y="298.45" textLength="15.4" lengthAdjust="spacingAndGlyphs">1403</text><text x="346.30" y="287.14" textLength="15.4" lengthAdjust="spacingAndGlyphs">1503</text><text x="346.30" y="275.83" textLength="15.4" lengthAdjust="spacingAndGlyphs">1603</text><text x="346.30" y="264.52" textLength="15.4" lengthAdjust="spacingAndGlyphs">1703</text><text x="346.30" y="253.22" textLength="15.4" lengthAdjust="spacingAndGlyphs">1803</text><text x="346.30" y="241.91" textLength="15.4" lengthAdjust="spacingAndGlyphs">1903</text><text x="346.30" y="230.60" textLength="15.4" lengthAdjust="spacingAndGlyphs">2003</text><text x="346.30" y="219.29" textLength="15.4" lengthAdjust="spacingAndGlyphs">2103</text><text x="346.30" y="207.98" textLength="15.4" lengthAdjust="spacingAndGlyphs">2203</text><text x="346.30" y="196.67" textLength="15.4" lengthAdjust="spacingAndGlyphs">2303</text><text x="346.30" y="185.36" textLength="15.4" lengthAdjust="spacingAndGlyphs">2403</text><text x="346.30" y="174.05" textLength="15.4" lengthAdjust="spacingAndGlyphs">2503</text><text x="346.30" y="162.74" textLength="15.4" lengthAdjust="spacingAndGlyphs">2603</text><text x="346.30" y="151.43" textLength="15.4" lengthAdjust="spacingAndGlyphs">2703</text><text x="346.30" y="140.12" textLength="15.4" lengthAdjust="spacingAndGlyphs">2803</text><text x="346.30" y="128.81" textLength="15.4" lengthAdjust="spacingAndGlyphs">2903</text><text x="346.30" y="117.50" textLength="15.4" lengthAdjust="spacingAndGlyphs">3003</text><text x="346.30" y="106.19" textLength="15.4" lengthAdjust="spacingAndGlyphs">3103</text><text x="346.30" y="94.88" textLength="15.4" lengthAdjust="spacingAndGlyphs">3203</text><text x="346.30" y="83.56" textLength="15.4" lengthAdjust="spacingAndGlyphs">3303</text><text x="346.30" y="72.25" textLength="15.4" lengthAdjust="spacingAndGlyphs">3403</text><text x="346.30" y="60.95" textLength="15.4" lengthAdjust="spacingAndGlyphs">3503</text><text x="346.30" y="49.63" textLength="15.4" lengthAdjust="spacingAndGlyphs">3603</text><text x="346.30" y="38.33" textLength="15.4" lengthAdjust="spacingAndGlyphs">3703</text><text x="346.30" y="27.02" textLength="15.4" lengthAdjust="spacingAndGlyphs">3803</text><text x="346.30" y="15.71" textLength="15.4" lengthAdjust="spacingAndGlyphs">3903</text><text x="367.25" y="434.18" textLength="11.6" lengthAdjust="spacingAndGlyphs">204</text><text x="367.25" y="422.87" textLength="11.6" lengthAdjust="spacingAndGlyphs">304</text><text x="367.25" y="411.56" textLength="11.6" lengthAdjust="spacingAndGlyphs">404</text><text x="367.25" y="400.25" textLength="11.6" lengthAdjust="spacingAndGlyphs">504</text><text x="367.25" y="388.94" textLength="11.6" lengthAdjust="spacingAndGlyphs">604</text><text x="367.25" y="377.62" textLength="11.6" lengthAdjust="spacingAndGlyphs">704</text><text x="367.25" y="366.31" textLength="11.6" lengthAdjust="spacingAndGlyphs">804</text><text x="367.25" y="355.00" textLength="11.6" lengthAdjust="spacingAndGlyphs">904</text><text x="367.25" y="343.69" textLength="15.4" lengthAdjust="spacingAndGlyphs">1004</text><text x="367.25" y="332.38" textLength="15.4" lengthAdjust="spacingAndGlyphs">1104</text><text x="367.25" y="321.07" textLength="15.4" lengthAdjust="spacingAndGlyphs">1204</text><text x="367.25" y="309.76" textLength="15.4" lengthAdjust="spacingAndGlyphs">1304</text><text x="367.25" y="298.45" textLength="15.4" lengthAdjust="spacingAndGlyphs">1404</text><text x="367.25" y="287.14" textLength="15.4" lengthAdjust="spacingAndGlyphs">1504</text><text x="367.25" y="275.83" textLength="15.4" lengthAdjust="spacingAndGlyphs">1604</text><text x="367.25" y="264.52" textLength="15.4" lengthAdjust="spacingAndGlyphs">1704</text><text x="367.25" y="253.22" textLength="15.4" lengthAdjust="spacingAndGlyphs">1804</text><text x="367.25" y="241.91" textLength="15.4" lengthAdjust="spacingAndGlyphs">1904</text><text x="367.25" y="230.60" textLength="15.4" lengthAdjust="spacingAndGlyphs">2004</text><text x="367.25" y="219.29" textLength="15.4" lengthAdjust="spacingAndGlyphs">2104</text><text x="367.25" y="207.98" textLength="15.4" lengthAdjust="spacingAndGlyphs">2204</text><text x="367.25" y="196.67" textLength="15.4" lengthAdjust="spacingAndGlyphs">2304</text><text x="367.25" y="185.36" textLength="15.4" lengthAdjust="spacingAndGlyphs">2404</text><text x="367.25" y="174.05" textLength="15.4" lengthAdjust="spacingAndGlyphs">2504</text><text x="367.25" y="162.74" textLength="15.4" lengthAdjust="spacingAndGlyphs">2604</text><text x="367.25" y="151.43" textLength="15.4" lengthAdjust="spacingAndGlyphs">2704</text><text x="367.25" y="140.12" textLength="15.4" lengthAdjust="spacingAndGlyphs">2804</text><text x="367.25" y="128.81" textLength="15.4" lengthAdjust="spacingAndGlyphs">2904</text><text x="367.25" y="117.50" textLength="15.4" lengthAdjust="spacingAndGlyphs">3004</text><text x="367.25" y="106.19" textLength="15.4" lengthAdjust="spacingAndGlyphs">3104</text><text x="367.25" y="94.88" textLength="15.4" lengthAdjust="spacingAndGlyphs">3204</text><text x="367.25" y="83.56" textLength="15.4" lengthAdjust="spacingAndGlyphs">3304</text><text x="367.25" y="72.25" textLength="15.4" lengthAdjust="spacingAndGlyphs">3404</text><text x="367.25" y="60.95" textLength="15.4" lengthAdjust="spacingAndGlyphs">3504</text><text x="367.25" y="49.63" textLength="15.4" lengthAdjust="spacingAndGlyphs">3604</text><text x="367.25" y="38.33" textLength="15.4" lengthAdjust="spacingAndGlyphs">3704</text><text x="367.25" y="27.02" textLength="15.4" lengthAdjust="spacingAndGlyphs">3804</text><text x="367.25" y="15.71" textLength="15.4" lengthAdjust="spacingAndGlyphs">3904</text><text x="387.98" y="434.18" textLength="11.6" lengthAdjust="spacingAndGlyphs">205</text><text x="387.98" y="422.87" textLength="11.6" lengthAdjust="spacingAndGlyphs">305</text><text x="387.98" y="411.56" textLength="11.6" lengthAdjust="spacingAndGlyphs">405</text><text x="387.98" y="400.25" textLength="11.6" lengthAdjust="spacingAndGlyphs">505</text><text x="387.98" y="388.94" textLength="11.6" lengthAdjust="spacingAndGlyphs">605</text><text x="387.98" y="377.62" textLength="11.6" lengthAdjust="spacingAndGlyphs">705</text><text x="387.98" y="366.31" textLength="11.6" lengthAdjust="spacingAndGlyphs">805</text><text x="387.98" y="355.00" textLength="11.6" lengthAdjust="spacingAndGlyphs">905</text><text x="387.98" y="343.69" textLength="15.4" lengthAdjust="spacingAndGlyphs">1005</text><text x="387.98" y="332.38" textLength="15.4" lengthAdjust="spacingAndGlyphs">1105</text><text x="387.98" y="321.07" textLength="15.4" lengthAdjust="spacingAndGlyphs">1205</text><text x="387.98" y="309.76" textLength="15.4" lengthAdjust="spacingAndGlyphs">1305</text><text x="387.98" y="298.45" textLength="15.4" lengthAdjust="spacingAndGlyphs">1405</text><text x="387.98" y="287.14" textLength="15.4" lengthAdjust="spacingAndGlyphs">1505</text><text x="387.98" y="275.83" textLength="15.4" lengthAdjust="spacingAndGlyphs">1605</text><text x="387.98" y="264.52" textLength="15.4" lengthAdjust="spacingAndGlyphs">1705</text><text x="387.98" y="253.22" textLength="15.4" lengthAdjust="spacingAndGlyphs">1805</text><text x="387.98" y="241.91" textLength="15.4" lengthAdjust="spacingAndGlyphs">1905</text><text x="387.98" y="230.60" textLength="15.4" lengthAdjust="spacingAndGlyphs">2005</text><text x="387.98" y="219.29" textLength="15.4" lengthAdjust="spacingAndGlyphs">2105</text><text x="387.98" y="207.98" textLength="15.4" lengthAdjust="spacingAndGlyphs">2205</text><text x="387.98" y="196.67" textLength="15.4" lengthAdjust="spacingAndGlyphs">2305</text><text x="387.98" y="185.36" textLength="15.4" lengthAdjust="spacingAndGlyphs">2405</text><text x="387.98" y="174.05" textLength="15.4" lengthAdjust="spacingAndGlyphs">2505</text><text x="387.98" y="162.74" textLength="15.4" lengthAdjust="spacingAndGlyphs">2605</text><text x="387.98" y="151.43" textLength="15.4" lengthAdjust="spacingAndGlyphs">2705</text><text x="387.98" y="140.12" textLength="15.4" lengthAdjust="spacingAndGlyphs">2805</text><text x="387.98" y="128.81" textLength="15.4" lengthAdjust="spacingAndGlyphs">2905</text><text x="387.98" y="117.50" textLength="15.4" lengthAdjust="spacingAndGlyphs">3005</text><text x="387.98" y="106.19" textLength="15.4" lengthAdjust="spacingAndGlyphs">3105</text><text x="387.98" y="94.88" textLength="15.4" lengthAdjust="spacingAndGlyphs">3205</text><text x="387.98" y="83.56" textLength="15.4" lengthAdjust="spacingAndGlyphs">3305</text><text x="387.98" y="72.25" textLength="15.4" lengthAdjust="spacingAndGlyphs">3405</text><text x="387.98" y="60.95" textLength="15.4" lengthAdjust="spacingAndGlyphs">3505</text><text x="387.98" y="49.63" textLength="15.4" lengthAdjust="spacingAndGlyphs">3605</text><text x="387.98" y="38.33" textLength="15.4" lengthAdjust="spacingAndGlyphs">3705</text><text x="387.98" y="27.02" textLength="15.4" lengthAdjust="spacingAndGlyphs">3805</text><text x="387.98" y="15.71" textLength="15.4" lengthAdjust="spacingAndGlyphs">3905</text></g><g fill="#fff" stroke="#fff" stroke-width="0.2" font-size="8.6" font-family="DejaVu Sans, sans-serif" font-stretch="condensed" text-anchor="middle"><text x="304.92" y="456.94" textLength="16.0" lengthAdjust="spacingAndGlyphs">122B</text><text x="325.50" y="456.94" textLength="16.0" lengthAdjust="spacingAndGlyphs">122A</text><text x="346.30" y="456.94" textLength="12.0" lengthAdjust="spacingAndGlyphs">84A</text><text x="367.25" y="456.94" textLength="12.0" lengthAdjust="spacingAndGlyphs">84B</text><text x="387.98" y="456.94" textLength="12.0" lengthAdjust="spacingAndGlyphs">84A</text></g><rect x="294.45" y="459.70" width="104.00" height="11.71" fill="#3d434a"/><text x="346.45" y="468.36" fill="#f0f0f0" font-size="8.8" font-weight="bold" text-anchor="middle"><tspan textLength="12.6" lengthAdjust="spacingAndGlyphs">108</tspan><tspan font-size="6.8" font-weight="normal" stroke="#f0f0f0" stroke-width="0.25">동</tspan></text><g><rect x="420.55" y="41.23" width="21.05" height="395.85" fill="#fcdfb4"/><rect x="420.55" y="448.39" width="21.35" height="11.31" fill="#f7a01c"/><rect x="441.60" y="41.23" width="20.90" height="395.85" fill="#fcdfb4"/><rect x="441.60" y="448.39" width="21.20" height="11.31" fill="#f7a01c"/><rect x="462.50" y="233.50" width="20.75" height="203.58" fill="#fcdfb4"/><rect x="462.50" y="448.39" width="21.05" height="11.31" fill="#f7a01c"/><rect x="483.25" y="233.50" width="21.20" height="203.58" fill="#fcdfb4"/><rect x="483.25" y="448.39" width="21.20" height="11.31" fill="#f7a01c"/></g><g stroke="#000" stroke-opacity="0.4" stroke-width="1"><line x1="420.55" y1="40.73" x2="420.55" y2="437.08"/><line x1="441.60" y1="40.73" x2="441.60" y2="437.08"/><line x1="462.50" y1="40.73" x2="462.50" y2="437.08"/><line x1="483.25" y1="233.00" x2="483.25" y2="437.08"/><line x1="504.45" y1="233.00" x2="504.45" y2="437.08"/><line x1="420.55" y1="41.23" x2="441.60" y2="41.23"/><line x1="420.55" y1="52.54" x2="441.60" y2="52.54"/><line x1="420.55" y1="63.85" x2="441.60" y2="63.85"/><line x1="420.55" y1="75.16" x2="441.60" y2="75.16"/><line x1="420.55" y1="86.47" x2="441.60" y2="86.47"/><line x1="420.55" y1="97.78" x2="441.60" y2="97.78"/><line x1="420.55" y1="109.09" x2="441.60" y2="109.09"/><line x1="420.55" y1="120.40" x2="441.60" y2="120.40"/><line x1="420.55" y1="131.71" x2="441.60" y2="131.71"/><line x1="420.55" y1="143.02" x2="441.60" y2="143.02"/><line x1="420.55" y1="154.33" x2="441.60" y2="154.33"/><line x1="420.55" y1="165.64" x2="441.60" y2="165.64"/><line x1="420.55" y1="176.95" x2="441.60" y2="176.95"/><line x1="420.55" y1="188.26" x2="441.60" y2="188.26"/><line x1="420.55" y1="199.57" x2="441.60" y2="199.57"/><line x1="420.55" y1="210.88" x2="441.60" y2="210.88"/><line x1="420.55" y1="222.19" x2="441.60" y2="222.19"/><line x1="420.55" y1="233.50" x2="441.60" y2="233.50"/><line x1="420.55" y1="244.81" x2="441.60" y2="244.81"/><line x1="420.55" y1="256.12" x2="441.60" y2="256.12"/><line x1="420.55" y1="267.43" x2="441.60" y2="267.43"/><line x1="420.55" y1="278.74" x2="441.60" y2="278.74"/><line x1="420.55" y1="290.05" x2="441.60" y2="290.05"/><line x1="420.55" y1="301.36" x2="441.60" y2="301.36"/><line x1="420.55" y1="312.67" x2="441.60" y2="312.67"/><line x1="420.55" y1="323.98" x2="441.60" y2="323.98"/><line x1="420.55" y1="335.29" x2="441.60" y2="335.29"/><line x1="420.55" y1="346.60" x2="441.60" y2="346.60"/><line x1="420.55" y1="357.91" x2="441.60" y2="357.91"/><line x1="420.55" y1="369.22" x2="441.60" y2="369.22"/><line x1="420.55" y1="380.53" x2="441.60" y2="380.53"/><line x1="420.55" y1="391.84" x2="441.60" y2="391.84"/><line x1="420.55" y1="403.15" x2="441.60" y2="403.15"/><line x1="420.55" y1="414.46" x2="441.60" y2="414.46"/><line x1="420.55" y1="425.77" x2="441.60" y2="425.77"/><line x1="420.55" y1="437.08" x2="441.60" y2="437.08"/><line x1="420.55" y1="448.39" x2="441.60" y2="448.39"/><line x1="441.60" y1="41.23" x2="462.50" y2="41.23"/><line x1="441.60" y1="52.54" x2="462.50" y2="52.54"/><line x1="441.60" y1="63.85" x2="462.50" y2="63.85"/><line x1="441.60" y1="75.16" x2="462.50" y2="75.16"/><line x1="441.60" y1="86.47" x2="462.50" y2="86.47"/><line x1="441.60" y1="97.78" x2="462.50" y2="97.78"/><line x1="441.60" y1="109.09" x2="462.50" y2="109.09"/><line x1="441.60" y1="120.40" x2="462.50" y2="120.40"/><line x1="441.60" y1="131.71" x2="462.50" y2="131.71"/><line x1="441.60" y1="143.02" x2="462.50" y2="143.02"/><line x1="441.60" y1="154.33" x2="462.50" y2="154.33"/><line x1="441.60" y1="165.64" x2="462.50" y2="165.64"/><line x1="441.60" y1="176.95" x2="462.50" y2="176.95"/><line x1="441.60" y1="188.26" x2="462.50" y2="188.26"/><line x1="441.60" y1="199.57" x2="462.50" y2="199.57"/><line x1="441.60" y1="210.88" x2="462.50" y2="210.88"/><line x1="441.60" y1="222.19" x2="462.50" y2="222.19"/><line x1="441.60" y1="233.50" x2="462.50" y2="233.50"/><line x1="441.60" y1="244.81" x2="462.50" y2="244.81"/><line x1="441.60" y1="256.12" x2="462.50" y2="256.12"/><line x1="441.60" y1="267.43" x2="462.50" y2="267.43"/><line x1="441.60" y1="278.74" x2="462.50" y2="278.74"/><line x1="441.60" y1="290.05" x2="462.50" y2="290.05"/><line x1="441.60" y1="301.36" x2="462.50" y2="301.36"/><line x1="441.60" y1="312.67" x2="462.50" y2="312.67"/><line x1="441.60" y1="323.98" x2="462.50" y2="323.98"/><line x1="441.60" y1="335.29" x2="462.50" y2="335.29"/><line x1="441.60" y1="346.60" x2="462.50" y2="346.60"/><line x1="441.60" y1="357.91" x2="462.50" y2="357.91"/><line x1="441.60" y1="369.22" x2="462.50" y2="369.22"/><line x1="441.60" y1="380.53" x2="462.50" y2="380.53"/><line x1="441.60" y1="391.84" x2="462.50" y2="391.84"/><line x1="441.60" y1="403.15" x2="462.50" y2="403.15"/><line x1="441.60" y1="414.46" x2="462.50" y2="414.46"/><line x1="441.60" y1="425.77" x2="462.50" y2="425.77"/><line x1="441.60" y1="437.08" x2="462.50" y2="437.08"/><line x1="441.60" y1="448.39" x2="462.50" y2="448.39"/><line x1="462.50" y1="233.50" x2="483.25" y2="233.50"/><line x1="462.50" y1="244.81" x2="483.25" y2="244.81"/><line x1="462.50" y1="256.12" x2="483.25" y2="256.12"/><line x1="462.50" y1="267.43" x2="483.25" y2="267.43"/><line x1="462.50" y1="278.74" x2="483.25" y2="278.74"/><line x1="462.50" y1="290.05" x2="483.25" y2="290.05"/><line x1="462.50" y1="301.36" x2="483.25" y2="301.36"/><line x1="462.50" y1="312.67" x2="483.25" y2="312.67"/><line x1="462.50" y1="323.98" x2="483.25" y2="323.98"/><line x1="462.50" y1="335.29" x2="483.25" y2="335.29"/><line x1="462.50" y1="346.60" x2="483.25" y2="346.60"/><line x1="462.50" y1="357.91" x2="483.25" y2="357.91"/><line x1="462.50" y1="369.22" x2="483.25" y2="369.22"/><line x1="462.50" y1="380.53" x2="483.25" y2="380.53"/><line x1="462.50" y1="391.84" x2="483.25" y2="391.84"/><line x1="462.50" y1="403.15" x2="483.25" y2="403.15"/><line x1="462.50" y1="414.46" x2="483.25" y2="414.46"/><line x1="462.50" y1="425.77" x2="483.25" y2="425.77"/><line x1="462.50" y1="437.08" x2="483.25" y2="437.08"/><line x1="462.50" y1="448.39" x2="483.25" y2="448.39"/><line x1="483.25" y1="233.50" x2="504.45" y2="233.50"/><line x1="483.25" y1="244.81" x2="504.45" y2="244.81"/><line x1="483.25" y1="256.12" x2="504.45" y2="256.12"/><line x1="483.25" y1="267.43" x2="504.45" y2="267.43"/><line x1="483.25" y1="278.74" x2="504.45" y2="278.74"/><line x1="483.25" y1="290.05" x2="504.45" y2="290.05"/><line x1="483.25" y1="301.36" x2="504.45" y2="301.36"/><line x1="483.25" y1="312.67" x2="504.45" y2="312.67"/><line x1="483.25" y1="323.98" x2="504.45" y2="323.98"/><line x1="483.25" y1="335.29" x2="504.45" y2="335.29"/><line x1="483.25" y1="346.60" x2="504.45" y2="346.60"/><line x1="483.25" y1="357.91" x2="504.45" y2="357.91"/><line x1="483.25" y1="369.22" x2="504.45" y2="369.22"/><line x1="483.25" y1="380.53" x2="504.45" y2="380.53"/><line x1="483.25" y1="391.84" x2="504.45" y2="391.84"/><line x1="483.25" y1="403.15" x2="504.45" y2="403.15"/><line x1="483.25" y1="414.46" x2="504.45" y2="414.46"/><line x1="483.25" y1="425.77" x2="504.45" y2="425.77"/><line x1="483.25" y1="437.08" x2="504.45" y2="437.08"/><line x1="483.25" y1="448.39" x2="504.45" y2="448.39"/></g><g stroke="#b4b4b4" stroke-width="1.1"><line x1="420.55" y1="437.58" x2="420.55" y2="448.39"/><line x1="441.60" y1="437.58" x2="441.60" y2="448.39"/><line x1="462.50" y1="437.58" x2="462.50" y2="448.39"/><line x1="483.25" y1="437.58" x2="483.25" y2="448.39"/><line x1="504.45" y1="437.58" x2="504.45" y2="448.39"/></g><g stroke="#6a6a6a" stroke-width="0.9" fill="none"><path d="M420.55 437.08L441.60 448.39M441.60 437.08L420.55 448.39"/><path d="M441.60 437.08L462.50 448.39M462.50 437.08L441.60 448.39"/><path d="M462.50 437.08L483.25 448.39M483.25 437.08L462.50 448.39"/><path d="M483.25 437.08L504.45 448.39M504.45 437.08L483.25 448.39"/></g><g stroke="#000" stroke-opacity="0.18" stroke-width="1"><line x1="441.60" y1="448.39" x2="441.60" y2="459.70"/><line x1="462.50" y1="448.39" x2="462.50" y2="459.70"/><line x1="483.25" y1="448.39" x2="483.25" y2="459.70"/></g><g fill="#303030" font-size="8.3" font-weight="normal" font-family="DejaVu Sans, sans-serif" font-stretch="condensed" text-anchor="middle" stroke="#303030" stroke-width="0.3"><text x="431.08" y="434.18" textLength="11.6" lengthAdjust="spacingAndGlyphs">201</text><text x="431.08" y="422.87" textLength="11.6" lengthAdjust="spacingAndGlyphs">301</text><text x="431.08" y="411.56" textLength="11.6" lengthAdjust="spacingAndGlyphs">401</text><text x="431.08" y="400.25" textLength="11.6" lengthAdjust="spacingAndGlyphs">501</text><text x="431.08" y="388.94" textLength="11.6" lengthAdjust="spacingAndGlyphs">601</text><text x="431.08" y="377.62" textLength="11.6" lengthAdjust="spacingAndGlyphs">701</text><text x="431.08" y="366.31" textLength="11.6" lengthAdjust="spacingAndGlyphs">801</text><text x="431.08" y="355.00" textLength="11.6" lengthAdjust="spacingAndGlyphs">901</text><text x="431.08" y="343.69" textLength="15.4" lengthAdjust="spacingAndGlyphs">1001</text><text x="431.08" y="332.38" textLength="15.4" lengthAdjust="spacingAndGlyphs">1101</text><text x="431.08" y="321.07" textLength="15.4" lengthAdjust="spacingAndGlyphs">1201</text><text x="431.08" y="309.76" textLength="15.4" lengthAdjust="spacingAndGlyphs">1301</text><text x="431.08" y="298.45" textLength="15.4" lengthAdjust="spacingAndGlyphs">1401</text><text x="431.08" y="287.14" textLength="15.4" lengthAdjust="spacingAndGlyphs">1501</text><text x="431.08" y="275.83" textLength="15.4" lengthAdjust="spacingAndGlyphs">1601</text><text x="431.08" y="264.52" textLength="15.4" lengthAdjust="spacingAndGlyphs">1701</text><text x="431.08" y="253.22" textLength="15.4" lengthAdjust="spacingAndGlyphs">1801</text><text x="431.08" y="241.91" textLength="15.4" lengthAdjust="spacingAndGlyphs">1901</text><text x="431.08" y="230.60" textLength="15.4" lengthAdjust="spacingAndGlyphs">2001</text><text x="431.08" y="219.29" textLength="15.4" lengthAdjust="spacingAndGlyphs">2101</text><text x="431.08" y="207.98" textLength="15.4" lengthAdjust="spacingAndGlyphs">2201</text><text x="431.08" y="196.67" textLength="15.4" lengthAdjust="spacingAndGlyphs">2301</text><text x="431.08" y="185.36" textLength="15.4" lengthAdjust="spacingAndGlyphs">2401</text><text x="431.08" y="174.05" textLength="15.4" lengthAdjust="spacingAndGlyphs">2501</text><text x="431.08" y="162.74" textLength="15.4" lengthAdjust="spacingAndGlyphs">2601</text><text x="431.08" y="151.43" textLength="15.4" lengthAdjust="spacingAndGlyphs">2701</text><text x="431.08" y="140.12" textLength="15.4" lengthAdjust="spacingAndGlyphs">2801</text><text x="431.08" y="128.81" textLength="15.4" lengthAdjust="spacingAndGlyphs">2901</text><text x="431.08" y="117.50" textLength="15.4" lengthAdjust="spacingAndGlyphs">3001</text><text x="431.08" y="106.19" textLength="15.4" lengthAdjust="spacingAndGlyphs">3101</text><text x="431.08" y="94.88" textLength="15.4" lengthAdjust="spacingAndGlyphs">3201</text><text x="431.08" y="83.56" textLength="15.4" lengthAdjust="spacingAndGlyphs">3301</text><text x="431.08" y="72.25" textLength="15.4" lengthAdjust="spacingAndGlyphs">3401</text><text x="431.08" y="60.95" textLength="15.4" lengthAdjust="spacingAndGlyphs">3501</text><text x="431.08" y="49.63" textLength="15.4" lengthAdjust="spacingAndGlyphs">3601</text><text x="452.05" y="434.18" textLength="11.6" lengthAdjust="spacingAndGlyphs">202</text><text x="452.05" y="422.87" textLength="11.6" lengthAdjust="spacingAndGlyphs">302</text><text x="452.05" y="411.56" textLength="11.6" lengthAdjust="spacingAndGlyphs">402</text><text x="452.05" y="400.25" textLength="11.6" lengthAdjust="spacingAndGlyphs">502</text><text x="452.05" y="388.94" textLength="11.6" lengthAdjust="spacingAndGlyphs">602</text><text x="452.05" y="377.62" textLength="11.6" lengthAdjust="spacingAndGlyphs">702</text><text x="452.05" y="366.31" textLength="11.6" lengthAdjust="spacingAndGlyphs">802</text><text x="452.05" y="355.00" textLength="11.6" lengthAdjust="spacingAndGlyphs">902</text><text x="452.05" y="343.69" textLength="15.4" lengthAdjust="spacingAndGlyphs">1002</text><text x="452.05" y="332.38" textLength="15.4" lengthAdjust="spacingAndGlyphs">1102</text><text x="452.05" y="321.07" textLength="15.4" lengthAdjust="spacingAndGlyphs">1202</text><text x="452.05" y="309.76" textLength="15.4" lengthAdjust="spacingAndGlyphs">1302</text><text x="452.05" y="298.45" textLength="15.4" lengthAdjust="spacingAndGlyphs">1402</text><text x="452.05" y="287.14" textLength="15.4" lengthAdjust="spacingAndGlyphs">1502</text><text x="452.05" y="275.83" textLength="15.4" lengthAdjust="spacingAndGlyphs">1602</text><text x="452.05" y="264.52" textLength="15.4" lengthAdjust="spacingAndGlyphs">1702</text><text x="452.05" y="253.22" textLength="15.4" lengthAdjust="spacingAndGlyphs">1802</text><text x="452.05" y="241.91" textLength="15.4" lengthAdjust="spacingAndGlyphs">1902</text><text x="452.05" y="230.60" textLength="15.4" lengthAdjust="spacingAndGlyphs">2002</text><text x="452.05" y="219.29" textLength="15.4" lengthAdjust="spacingAndGlyphs">2102</text><text x="452.05" y="207.98" textLength="15.4" lengthAdjust="spacingAndGlyphs">2202</text><text x="452.05" y="196.67" textLength="15.4" lengthAdjust="spacingAndGlyphs">2302</text><text x="452.05" y="185.36" textLength="15.4" lengthAdjust="spacingAndGlyphs">2402</text><text x="452.05" y="174.05" textLength="15.4" lengthAdjust="spacingAndGlyphs">2502</text><text x="452.05" y="162.74" textLength="15.4" lengthAdjust="spacingAndGlyphs">2602</text><text x="452.05" y="151.43" textLength="15.4" lengthAdjust="spacingAndGlyphs">2702</text><text x="452.05" y="140.12" textLength="15.4" lengthAdjust="spacingAndGlyphs">2802</text><text x="452.05" y="128.81" textLength="15.4" lengthAdjust="spacingAndGlyphs">2902</text><text x="452.05" y="117.50" textLength="15.4" lengthAdjust="spacingAndGlyphs">3002</text><text x="452.05" y="106.19" textLength="15.4" lengthAdjust="spacingAndGlyphs">3102</text><text x="452.05" y="94.88" textLength="15.4" lengthAdjust="spacingAndGlyphs">3202</text><text x="452.05" y="83.56" textLength="15.4" lengthAdjust="spacingAndGlyphs">3302</text><text x="452.05" y="72.25" textLength="15.4" lengthAdjust="spacingAndGlyphs">3402</text><text x="452.05" y="60.95" textLength="15.4" lengthAdjust="spacingAndGlyphs">3502</text><text x="452.05" y="49.63" textLength="15.4" lengthAdjust="spacingAndGlyphs">3602</text><text x="472.88" y="434.18" textLength="11.6" lengthAdjust="spacingAndGlyphs">203</text><text x="472.88" y="422.87" textLength="11.6" lengthAdjust="spacingAndGlyphs">303</text><text x="472.88" y="411.56" textLength="11.6" lengthAdjust="spacingAndGlyphs">403</text><text x="472.88" y="400.25" textLength="11.6" lengthAdjust="spacingAndGlyphs">503</text><text x="472.88" y="388.94" textLength="11.6" lengthAdjust="spacingAndGlyphs">603</text><text x="472.88" y="377.62" textLength="11.6" lengthAdjust="spacingAndGlyphs">703</text><text x="472.88" y="366.31" textLength="11.6" lengthAdjust="spacingAndGlyphs">803</text><text x="472.88" y="355.00" textLength="11.6" lengthAdjust="spacingAndGlyphs">903</text><text x="472.88" y="343.69" textLength="15.4" lengthAdjust="spacingAndGlyphs">1003</text><text x="472.88" y="332.38" textLength="15.4" lengthAdjust="spacingAndGlyphs">1103</text><text x="472.88" y="321.07" textLength="15.4" lengthAdjust="spacingAndGlyphs">1203</text><text x="472.88" y="309.76" textLength="15.4" lengthAdjust="spacingAndGlyphs">1303</text><text x="472.88" y="298.45" textLength="15.4" lengthAdjust="spacingAndGlyphs">1403</text><text x="472.88" y="287.14" textLength="15.4" lengthAdjust="spacingAndGlyphs">1503</text><text x="472.88" y="275.83" textLength="15.4" lengthAdjust="spacingAndGlyphs">1603</text><text x="472.88" y="264.52" textLength="15.4" lengthAdjust="spacingAndGlyphs">1703</text><text x="472.88" y="253.22" textLength="15.4" lengthAdjust="spacingAndGlyphs">1803</text><text x="472.88" y="241.91" textLength="15.4" lengthAdjust="spacingAndGlyphs">1903</text><text x="493.85" y="434.18" textLength="11.6" lengthAdjust="spacingAndGlyphs">204</text><text x="493.85" y="422.87" textLength="11.6" lengthAdjust="spacingAndGlyphs">304</text><text x="493.85" y="411.56" textLength="11.6" lengthAdjust="spacingAndGlyphs">404</text><text x="493.85" y="400.25" textLength="11.6" lengthAdjust="spacingAndGlyphs">504</text><text x="493.85" y="388.94" textLength="11.6" lengthAdjust="spacingAndGlyphs">604</text><text x="493.85" y="377.62" textLength="11.6" lengthAdjust="spacingAndGlyphs">704</text><text x="493.85" y="366.31" textLength="11.6" lengthAdjust="spacingAndGlyphs">804</text><text x="493.85" y="355.00" textLength="11.6" lengthAdjust="spacingAndGlyphs">904</text><text x="493.85" y="343.69" textLength="15.4" lengthAdjust="spacingAndGlyphs">1004</text><text x="493.85" y="332.38" textLength="15.4" lengthAdjust="spacingAndGlyphs">1104</text><text x="493.85" y="321.07" textLength="15.4" lengthAdjust="spacingAndGlyphs">1204</text><text x="493.85" y="309.76" textLength="15.4" lengthAdjust="spacingAndGlyphs">1304</text><text x="493.85" y="298.45" textLength="15.4" lengthAdjust="spacingAndGlyphs">1404</text><text x="493.85" y="287.14" textLength="15.4" lengthAdjust="spacingAndGlyphs">1504</text><text x="493.85" y="275.83" textLength="15.4" lengthAdjust="spacingAndGlyphs">1604</text><text x="493.85" y="264.52" textLength="15.4" lengthAdjust="spacingAndGlyphs">1704</text><text x="493.85" y="253.22" textLength="15.4" lengthAdjust="spacingAndGlyphs">1804</text><text x="493.85" y="241.91" textLength="15.4" lengthAdjust="spacingAndGlyphs">1904</text></g><g fill="#fff" stroke="#fff" stroke-width="0.2" font-size="8.6" font-family="DejaVu Sans, sans-serif" font-stretch="condensed" text-anchor="middle"><text x="431.08" y="456.94" textLength="12.0" lengthAdjust="spacingAndGlyphs">84A</text><text x="452.05" y="456.94" textLength="12.0" lengthAdjust="spacingAndGlyphs">84A</text><text x="472.88" y="456.94" textLength="12.0" lengthAdjust="spacingAndGlyphs">84A</text><text x="493.85" y="456.94" textLength="12.0" lengthAdjust="spacingAndGlyphs">84A</text></g><rect x="420.55" y="459.70" width="83.90" height="11.71" fill="#3d434a"/><text x="462.50" y="468.36" fill="#f0f0f0" font-size="8.8" font-weight="bold" text-anchor="middle"><tspan textLength="12.6" lengthAdjust="spacingAndGlyphs">109</tspan><tspan font-size="6.8" font-weight="normal" stroke="#f0f0f0" stroke-width="0.25">동</tspan></text><g><rect x="526.55" y="7.30" width="20.95" height="429.78" fill="#b6c7ae"/><rect x="526.55" y="448.39" width="21.25" height="11.31" fill="#1f6b30"/><rect x="547.50" y="7.30" width="20.50" height="429.78" fill="#fcdfb4"/><rect x="547.50" y="448.39" width="20.80" height="11.31" fill="#f7a01c"/><rect x="568.00" y="7.30" width="21.00" height="429.78" fill="#fcdfb4"/><rect x="568.00" y="448.39" width="21.30" height="11.31" fill="#f7a01c"/><rect x="589.00" y="7.30" width="20.60" height="429.78" fill="#f9cba9"/><rect x="589.00" y="448.39" width="20.90" height="11.31" fill="#f26b21"/><rect x="609.60" y="52.54" width="20.95" height="384.54" fill="#fcdfb4"/><rect x="609.60" y="448.39" width="20.95" height="11.31" fill="#f7a01c"/></g><g stroke="#000" stroke-opacity="0.4" stroke-width="1"><line x1="526.55" y1="6.80" x2="526.55" y2="437.08"/><line x1="547.50" y1="6.80" x2="547.50" y2="437.08"/><line x1="568.00" y1="6.80" x2="568.00" y2="437.08"/><line x1="589.00" y1="6.80" x2="589.00" y2="437.08"/><line x1="609.60" y1="6.80" x2="609.60" y2="437.08"/><line x1="630.55" y1="52.04" x2="630.55" y2="437.08"/><line x1="526.55" y1="7.30" x2="547.50" y2="7.30"/><line x1="526.55" y1="18.61" x2="547.50" y2="18.61"/><line x1="526.55" y1="29.92" x2="547.50" y2="29.92"/><line x1="526.55" y1="41.23" x2="547.50" y2="41.23"/><line x1="526.55" y1="52.54" x2="547.50" y2="52.54"/><line x1="526.55" y1="63.85" x2="547.50" y2="63.85"/><line x1="526.55" y1="75.16" x2="547.50" y2="75.16"/><line x1="526.55" y1="86.47" x2="547.50" y2="86.47"/><line x1="526.55" y1="97.78" x2="547.50" y2="97.78"/><line x1="526.55" y1="109.09" x2="547.50" y2="109.09"/><line x1="526.55" y1="120.40" x2="547.50" y2="120.40"/><line x1="526.55" y1="131.71" x2="547.50" y2="131.71"/><line x1="526.55" y1="143.02" x2="547.50" y2="143.02"/><line x1="526.55" y1="154.33" x2="547.50" y2="154.33"/><line x1="526.55" y1="165.64" x2="547.50" y2="165.64"/><line x1="526.55" y1="176.95" x2="547.50" y2="176.95"/><line x1="526.55" y1="188.26" x2="547.50" y2="188.26"/><line x1="526.55" y1="199.57" x2="547.50" y2="199.57"/><line x1="526.55" y1="210.88" x2="547.50" y2="210.88"/><line x1="526.55" y1="222.19" x2="547.50" y2="222.19"/><line x1="526.55" y1="233.50" x2="547.50" y2="233.50"/><line x1="526.55" y1="244.81" x2="547.50" y2="244.81"/><line x1="526.55" y1="256.12" x2="547.50" y2="256.12"/><line x1="526.55" y1="267.43" x2="547.50" y2="267.43"/><line x1="526.55" y1="278.74" x2="547.50" y2="278.74"/><line x1="526.55" y1="290.05" x2="547.50" y2="290.05"/><line x1="526.55" y1="301.36" x2="547.50" y2="301.36"/><line x1="526.55" y1="312.67" x2="547.50" y2="312.67"/><line x1="526.55" y1="323.98" x2="547.50" y2="323.98"/><line x1="526.55" y1="335.29" x2="547.50" y2="335.29"/><line x1="526.55" y1="346.60" x2="547.50" y2="346.60"/><line x1="526.55" y1="357.91" x2="547.50" y2="357.91"/><line x1="526.55" y1="369.22" x2="547.50" y2="369.22"/><line x1="526.55" y1="380.53" x2="547.50" y2="380.53"/><line x1="526.55" y1="391.84" x2="547.50" y2="391.84"/><line x1="526.55" y1="403.15" x2="547.50" y2="403.15"/><line x1="526.55" y1="414.46" x2="547.50" y2="414.46"/><line x1="526.55" y1="425.77" x2="547.50" y2="425.77"/><line x1="526.55" y1="437.08" x2="547.50" y2="437.08"/><line x1="526.55" y1="448.39" x2="547.50" y2="448.39"/><line x1="547.50" y1="7.30" x2="568.00" y2="7.30"/><line x1="547.50" y1="18.61" x2="568.00" y2="18.61"/><line x1="547.50" y1="29.92" x2="568.00" y2="29.92"/><line x1="547.50" y1="41.23" x2="568.00" y2="41.23"/><line x1="547.50" y1="52.54" x2="568.00" y2="52.54"/><line x1="547.50" y1="63.85" x2="568.00" y2="63.85"/><line x1="547.50" y1="75.16" x2="568.00" y2="75.16"/><line x1="547.50" y1="86.47" x2="568.00" y2="86.47"/><line x1="547.50" y1="97.78" x2="568.00" y2="97.78"/><line x1="547.50" y1="109.09" x2="568.00" y2="109.09"/><line x1="547.50" y1="120.40" x2="568.00" y2="120.40"/><line x1="547.50" y1="131.71" x2="568.00" y2="131.71"/><line x1="547.50" y1="143.02" x2="568.00" y2="143.02"/><line x1="547.50" y1="154.33" x2="568.00" y2="154.33"/><line x1="547.50" y1="165.64" x2="568.00" y2="165.64"/><line x1="547.50" y1="176.95" x2="568.00" y2="176.95"/><line x1="547.50" y1="188.26" x2="568.00" y2="188.26"/><line x1="547.50" y1="199.57" x2="568.00" y2="199.57"/><line x1="547.50" y1="210.88" x2="568.00" y2="210.88"/><line x1="547.50" y1="222.19" x2="568.00" y2="222.19"/><line x1="547.50" y1="233.50" x2="568.00" y2="233.50"/><line x1="547.50" y1="244.81" x2="568.00" y2="244.81"/><line x1="547.50" y1="256.12" x2="568.00" y2="256.12"/><line x1="547.50" y1="267.43" x2="568.00" y2="267.43"/><line x1="547.50" y1="278.74" x2="568.00" y2="278.74"/><line x1="547.50" y1="290.05" x2="568.00" y2="290.05"/><line x1="547.50" y1="301.36" x2="568.00" y2="301.36"/><line x1="547.50" y1="312.67" x2="568.00" y2="312.67"/><line x1="547.50" y1="323.98" x2="568.00" y2="323.98"/><line x1="547.50" y1="335.29" x2="568.00" y2="335.29"/><line x1="547.50" y1="346.60" x2="568.00" y2="346.60"/><line x1="547.50" y1="357.91" x2="568.00" y2="357.91"/><line x1="547.50" y1="369.22" x2="568.00" y2="369.22"/><line x1="547.50" y1="380.53" x2="568.00" y2="380.53"/><line x1="547.50" y1="391.84" x2="568.00" y2="391.84"/><line x1="547.50" y1="403.15" x2="568.00" y2="403.15"/><line x1="547.50" y1="414.46" x2="568.00" y2="414.46"/><line x1="547.50" y1="425.77" x2="568.00" y2="425.77"/><line x1="547.50" y1="437.08" x2="568.00" y2="437.08"/><line x1="547.50" y1="448.39" x2="568.00" y2="448.39"/><line x1="568.00" y1="7.30" x2="589.00" y2="7.30"/><line x1="568.00" y1="18.61" x2="589.00" y2="18.61"/><line x1="568.00" y1="29.92" x2="589.00" y2="29.92"/><line x1="568.00" y1="41.23" x2="589.00" y2="41.23"/><line x1="568.00" y1="52.54" x2="589.00" y2="52.54"/><line x1="568.00" y1="63.85" x2="589.00" y2="63.85"/><line x1="568.00" y1="75.16" x2="589.00" y2="75.16"/><line x1="568.00" y1="86.47" x2="589.00" y2="86.47"/><line x1="568.00" y1="97.78" x2="589.00" y2="97.78"/><line x1="568.00" y1="109.09" x2="589.00" y2="109.09"/><line x1="568.00" y1="120.40" x2="589.00" y2="120.40"/><line x1="568.00" y1="131.71" x2="589.00" y2="131.71"/><line x1="568.00" y1="143.02" x2="589.00" y2="143.02"/><line x1="568.00" y1="154.33" x2="589.00" y2="154.33"/><line x1="568.00" y1="165.64" x2="589.00" y2="165.64"/><line x1="568.00" y1="176.95" x2="589.00" y2="176.95"/><line x1="568.00" y1="188.26" x2="589.00" y2="188.26"/><line x1="568.00" y1="199.57" x2="589.00" y2="199.57"/><line x1="568.00" y1="210.88" x2="589.00" y2="210.88"/><line x1="568.00" y1="222.19" x2="589.00" y2="222.19"/><line x1="568.00" y1="233.50" x2="589.00" y2="233.50"/><line x1="568.00" y1="244.81" x2="589.00" y2="244.81"/><line x1="568.00" y1="256.12" x2="589.00" y2="256.12"/><line x1="568.00" y1="267.43" x2="589.00" y2="267.43"/><line x1="568.00" y1="278.74" x2="589.00" y2="278.74"/><line x1="568.00" y1="290.05" x2="589.00" y2="290.05"/><line x1="568.00" y1="301.36" x2="589.00" y2="301.36"/><line x1="568.00" y1="312.67" x2="589.00" y2="312.67"/><line x1="568.00" y1="323.98" x2="589.00" y2="323.98"/><line x1="568.00" y1="335.29" x2="589.00" y2="335.29"/><line x1="568.00" y1="346.60" x2="589.00" y2="346.60"/><line x1="568.00" y1="357.91" x2="589.00" y2="357.91"/><line x1="568.00" y1="369.22" x2="589.00" y2="369.22"/><line x1="568.00" y1="380.53" x2="589.00" y2="380.53"/><line x1="568.00" y1="391.84" x2="589.00" y2="391.84"/><line x1="568.00" y1="403.15" x2="589.00" y2="403.15"/><line x1="568.00" y1="414.46" x2="589.00" y2="414.46"/><line x1="568.00" y1="425.77" x2="589.00" y2="425.77"/><line x1="568.00" y1="437.08" x2="589.00" y2="437.08"/><line x1="568.00" y1="448.39" x2="589.00" y2="448.39"/><line x1="589.00" y1="7.30" x2="609.60" y2="7.30"/><line x1="589.00" y1="18.61" x2="609.60" y2="18.61"/><line x1="589.00" y1="29.92" x2="609.60" y2="29.92"/><line x1="589.00" y1="41.23" x2="609.60" y2="41.23"/><line x1="589.00" y1="52.54" x2="609.60" y2="52.54"/><line x1="589.00" y1="63.85" x2="609.60" y2="63.85"/><line x1="589.00" y1="75.16" x2="609.60" y2="75.16"/><line x1="589.00" y1="86.47" x2="609.60" y2="86.47"/><line x1="589.00" y1="97.78" x2="609.60" y2="97.78"/><line x1="589.00" y1="109.09" x2="609.60" y2="109.09"/><line x1="589.00" y1="120.40" x2="609.60" y2="120.40"/><line x1="589.00" y1="131.71" x2="609.60" y2="131.71"/><line x1="589.00" y1="143.02" x2="609.60" y2="143.02"/><line x1="589.00" y1="154.33" x2="609.60" y2="154.33"/><line x1="589.00" y1="165.64" x2="609.60" y2="165.64"/><line x1="589.00" y1="176.95" x2="609.60" y2="176.95"/><line x1="589.00" y1="188.26" x2="609.60" y2="188.26"/><line x1="589.00" y1="199.57" x2="609.60" y2="199.57"/><line x1="589.00" y1="210.88" x2="609.60" y2="210.88"/><line x1="589.00" y1="222.19" x2="609.60" y2="222.19"/><line x1="589.00" y1="233.50" x2="609.60" y2="233.50"/><line x1="589.00" y1="244.81" x2="609.60" y2="244.81"/><line x1="589.00" y1="256.12" x2="609.60" y2="256.12"/><line x1="589.00" y1="267.43" x2="609.60" y2="267.43"/><line x1="589.00" y1="278.74" x2="609.60" y2="278.74"/><line x1="589.00" y1="290.05" x2="609.60" y2="290.05"/><line x1="589.00" y1="301.36" x2="609.60" y2="301.36"/><line x1="589.00" y1="312.67" x2="609.60" y2="312.67"/><line x1="589.00" y1="323.98" x2="609.60" y2="323.98"/><line x1="589.00" y1="335.29" x2="609.60" y2="335.29"/><line x1="589.00" y1="346.60" x2="609.60" y2="346.60"/><line x1="589.00" y1="357.91" x2="609.60" y2="357.91"/><line x1="589.00" y1="369.22" x2="609.60" y2="369.22"/><line x1="589.00" y1="380.53" x2="609.60" y2="380.53"/><line x1="589.00" y1="391.84" x2="609.60" y2="391.84"/><line x1="589.00" y1="403.15" x2="609.60" y2="403.15"/><line x1="589.00" y1="414.46" x2="609.60" y2="414.46"/><line x1="589.00" y1="425.77" x2="609.60" y2="425.77"/><line x1="589.00" y1="437.08" x2="609.60" y2="437.08"/><line x1="589.00" y1="448.39" x2="609.60" y2="448.39"/><line x1="609.60" y1="52.54" x2="630.55" y2="52.54"/><line x1="609.60" y1="63.85" x2="630.55" y2="63.85"/><line x1="609.60" y1="75.16" x2="630.55" y2="75.16"/><line x1="609.60" y1="86.47" x2="630.55" y2="86.47"/><line x1="609.60" y1="97.78" x2="630.55" y2="97.78"/><line x1="609.60" y1="109.09" x2="630.55" y2="109.09"/><line x1="609.60" y1="120.40" x2="630.55" y2="120.40"/><line x1="609.60" y1="131.71" x2="630.55" y2="131.71"/><line x1="609.60" y1="143.02" x2="630.55" y2="143.02"/><line x1="609.60" y1="154.33" x2="630.55" y2="154.33"/><line x1="609.60" y1="165.64" x2="630.55" y2="165.64"/><line x1="609.60" y1="176.95" x2="630.55" y2="176.95"/><line x1="609.60" y1="188.26" x2="630.55" y2="188.26"/><line x1="609.60" y1="199.57" x2="630.55" y2="199.57"/><line x1="609.60" y1="210.88" x2="630.55" y2="210.88"/><line x1="609.60" y1="222.19" x2="630.55" y2="222.19"/><line x1="609.60" y1="233.50" x2="630.55" y2="233.50"/><line x1="609.60" y1="244.81" x2="630.55" y2="244.81"/><line x1="609.60" y1="256.12" x2="630.55" y2="256.12"/><line x1="609.60" y1="267.43" x2="630.55" y2="267.43"/><line x1="609.60" y1="278.74" x2="630.55" y2="278.74"/><line x1="609.60" y1="290.05" x2="630.55" y2="290.05"/><line x1="609.60" y1="301.36" x2="630.55" y2="301.36"/><line x1="609.60" y1="312.67" x2="630.55" y2="312.67"/><line x1="609.60" y1="323.98" x2="630.55" y2="323.98"/><line x1="609.60" y1="335.29" x2="630.55" y2="335.29"/><line x1="609.60" y1="346.60" x2="630.55" y2="346.60"/><line x1="609.60" y1="357.91" x2="630.55" y2="357.91"/><line x1="609.60" y1="369.22" x2="630.55" y2="369.22"/><line x1="609.60" y1="380.53" x2="630.55" y2="380.53"/><line x1="609.60" y1="391.84" x2="630.55" y2="391.84"/><line x1="609.60" y1="403.15" x2="630.55" y2="403.15"/><line x1="609.60" y1="414.46" x2="630.55" y2="414.46"/><line x1="609.60" y1="425.77" x2="630.55" y2="425.77"/><line x1="609.60" y1="437.08" x2="630.55" y2="437.08"/><line x1="609.60" y1="448.39" x2="630.55" y2="448.39"/></g><g stroke="#b4b4b4" stroke-width="1.1"><line x1="526.55" y1="437.58" x2="526.55" y2="448.39"/><line x1="547.50" y1="437.58" x2="547.50" y2="448.39"/><line x1="568.00" y1="437.58" x2="568.00" y2="448.39"/><line x1="589.00" y1="437.58" x2="589.00" y2="448.39"/><line x1="609.60" y1="437.58" x2="609.60" y2="448.39"/><line x1="630.55" y1="437.58" x2="630.55" y2="448.39"/></g><g stroke="#6a6a6a" stroke-width="0.9" fill="none"><path d="M526.55 437.08L547.50 448.39M547.50 437.08L526.55 448.39"/><path d="M547.50 437.08L568.00 448.39M568.00 437.08L547.50 448.39"/><path d="M568.00 437.08L589.00 448.39M589.00 437.08L568.00 448.39"/><path d="M589.00 437.08L609.60 448.39M609.60 437.08L589.00 448.39"/><path d="M609.60 437.08L630.55 448.39M630.55 437.08L609.60 448.39"/></g><g stroke="#000" stroke-opacity="0.18" stroke-width="1"><line x1="547.50" y1="448.39" x2="547.50" y2="459.70"/><line x1="568.00" y1="448.39" x2="568.00" y2="459.70"/><line x1="589.00" y1="448.39" x2="589.00" y2="459.70"/><line x1="609.60" y1="448.39" x2="609.60" y2="459.70"/></g><g fill="#303030" font-size="8.3" font-weight="normal" font-family="DejaVu Sans, sans-serif" font-stretch="condensed" text-anchor="middle" stroke="#303030" stroke-width="0.3"><text x="537.02" y="434.18" textLength="11.6" lengthAdjust="spacingAndGlyphs">201</text><text x="537.02" y="422.87" textLength="11.6" lengthAdjust="spacingAndGlyphs">301</text><text x="537.02" y="411.56" textLength="11.6" lengthAdjust="spacingAndGlyphs">401</text><text x="537.02" y="400.25" textLength="11.6" lengthAdjust="spacingAndGlyphs">501</text><text x="537.02" y="388.94" textLength="11.6" lengthAdjust="spacingAndGlyphs">601</text><text x="537.02" y="377.62" textLength="11.6" lengthAdjust="spacingAndGlyphs">701</text><text x="537.02" y="366.31" textLength="11.6" lengthAdjust="spacingAndGlyphs">801</text><text x="537.02" y="355.00" textLength="11.6" lengthAdjust="spacingAndGlyphs">901</text><text x="537.02" y="343.69" textLength="15.4" lengthAdjust="spacingAndGlyphs">1001</text><text x="537.02" y="332.38" textLength="15.4" lengthAdjust="spacingAndGlyphs">1101</text><text x="537.02" y="321.07" textLength="15.4" lengthAdjust="spacingAndGlyphs">1201</text><text x="537.02" y="309.76" textLength="15.4" lengthAdjust="spacingAndGlyphs">1301</text><text x="537.02" y="298.45" textLength="15.4" lengthAdjust="spacingAndGlyphs">1401</text><text x="537.02" y="287.14" textLength="15.4" lengthAdjust="spacingAndGlyphs">1501</text><text x="537.02" y="275.83" textLength="15.4" lengthAdjust="spacingAndGlyphs">1601</text><text x="537.02" y="264.52" textLength="15.4" lengthAdjust="spacingAndGlyphs">1701</text><text x="537.02" y="253.22" textLength="15.4" lengthAdjust="spacingAndGlyphs">1801</text><text x="537.02" y="241.91" textLength="15.4" lengthAdjust="spacingAndGlyphs">1901</text><text x="537.02" y="230.60" textLength="15.4" lengthAdjust="spacingAndGlyphs">2001</text><text x="537.02" y="219.29" textLength="15.4" lengthAdjust="spacingAndGlyphs">2101</text><text x="537.02" y="207.98" textLength="15.4" lengthAdjust="spacingAndGlyphs">2201</text><text x="537.02" y="196.67" textLength="15.4" lengthAdjust="spacingAndGlyphs">2301</text><text x="537.02" y="185.36" textLength="15.4" lengthAdjust="spacingAndGlyphs">2401</text><text x="537.02" y="174.05" textLength="15.4" lengthAdjust="spacingAndGlyphs">2501</text><text x="537.02" y="162.74" textLength="15.4" lengthAdjust="spacingAndGlyphs">2601</text><text x="537.02" y="151.43" textLength="15.4" lengthAdjust="spacingAndGlyphs">2701</text><text x="537.02" y="140.12" textLength="15.4" lengthAdjust="spacingAndGlyphs">2801</text><text x="537.02" y="128.81" textLength="15.4" lengthAdjust="spacingAndGlyphs">2901</text><text x="537.02" y="117.50" textLength="15.4" lengthAdjust="spacingAndGlyphs">3001</text><text x="537.02" y="106.19" textLength="15.4" lengthAdjust="spacingAndGlyphs">3101</text><text x="537.02" y="94.88" textLength="15.4" lengthAdjust="spacingAndGlyphs">3201</text><text x="537.02" y="83.56" textLength="15.4" lengthAdjust="spacingAndGlyphs">3301</text><text x="537.02" y="72.25" textLength="15.4" lengthAdjust="spacingAndGlyphs">3401</text><text x="537.02" y="60.95" textLength="15.4" lengthAdjust="spacingAndGlyphs">3501</text><text x="537.02" y="49.63" textLength="15.4" lengthAdjust="spacingAndGlyphs">3601</text><text x="537.02" y="38.33" textLength="15.4" lengthAdjust="spacingAndGlyphs">3701</text><text x="537.02" y="27.02" textLength="15.4" lengthAdjust="spacingAndGlyphs">3801</text><text x="537.02" y="15.71" textLength="15.4" lengthAdjust="spacingAndGlyphs">3901</text><text x="557.75" y="434.18" textLength="11.6" lengthAdjust="spacingAndGlyphs">202</text><text x="557.75" y="422.87" textLength="11.6" lengthAdjust="spacingAndGlyphs">302</text><text x="557.75" y="411.56" textLength="11.6" lengthAdjust="spacingAndGlyphs">402</text><text x="557.75" y="400.25" textLength="11.6" lengthAdjust="spacingAndGlyphs">502</text><text x="557.75" y="388.94" textLength="11.6" lengthAdjust="spacingAndGlyphs">602</text><text x="557.75" y="377.62" textLength="11.6" lengthAdjust="spacingAndGlyphs">702</text><text x="557.75" y="366.31" textLength="11.6" lengthAdjust="spacingAndGlyphs">802</text><text x="557.75" y="355.00" textLength="11.6" lengthAdjust="spacingAndGlyphs">902</text><text x="557.75" y="343.69" textLength="15.4" lengthAdjust="spacingAndGlyphs">1002</text><text x="557.75" y="332.38" textLength="15.4" lengthAdjust="spacingAndGlyphs">1102</text><text x="557.75" y="321.07" textLength="15.4" lengthAdjust="spacingAndGlyphs">1202</text><text x="557.75" y="309.76" textLength="15.4" lengthAdjust="spacingAndGlyphs">1302</text><text x="557.75" y="298.45" textLength="15.4" lengthAdjust="spacingAndGlyphs">1402</text><text x="557.75" y="287.14" textLength="15.4" lengthAdjust="spacingAndGlyphs">1502</text><text x="557.75" y="275.83" textLength="15.4" lengthAdjust="spacingAndGlyphs">1602</text><text x="557.75" y="264.52" textLength="15.4" lengthAdjust="spacingAndGlyphs">1702</text><text x="557.75" y="253.22" textLength="15.4" lengthAdjust="spacingAndGlyphs">1802</text><text x="557.75" y="241.91" textLength="15.4" lengthAdjust="spacingAndGlyphs">1902</text><text x="557.75" y="230.60" textLength="15.4" lengthAdjust="spacingAndGlyphs">2002</text><text x="557.75" y="219.29" textLength="15.4" lengthAdjust="spacingAndGlyphs">2102</text><text x="557.75" y="207.98" textLength="15.4" lengthAdjust="spacingAndGlyphs">2202</text><text x="557.75" y="196.67" textLength="15.4" lengthAdjust="spacingAndGlyphs">2302</text><text x="557.75" y="185.36" textLength="15.4" lengthAdjust="spacingAndGlyphs">2402</text><text x="557.75" y="174.05" textLength="15.4" lengthAdjust="spacingAndGlyphs">2502</text><text x="557.75" y="162.74" textLength="15.4" lengthAdjust="spacingAndGlyphs">2602</text><text x="557.75" y="151.43" textLength="15.4" lengthAdjust="spacingAndGlyphs">2702</text><text x="557.75" y="140.12" textLength="15.4" lengthAdjust="spacingAndGlyphs">2802</text><text x="557.75" y="128.81" textLength="15.4" lengthAdjust="spacingAndGlyphs">2902</text><text x="557.75" y="117.50" textLength="15.4" lengthAdjust="spacingAndGlyphs">3002</text><text x="557.75" y="106.19" textLength="15.4" lengthAdjust="spacingAndGlyphs">3102</text><text x="557.75" y="94.88" textLength="15.4" lengthAdjust="spacingAndGlyphs">3202</text><text x="557.75" y="83.56" textLength="15.4" lengthAdjust="spacingAndGlyphs">3302</text><text x="557.75" y="72.25" textLength="15.4" lengthAdjust="spacingAndGlyphs">3402</text><text x="557.75" y="60.95" textLength="15.4" lengthAdjust="spacingAndGlyphs">3502</text><text x="557.75" y="49.63" textLength="15.4" lengthAdjust="spacingAndGlyphs">3602</text><text x="557.75" y="38.33" textLength="15.4" lengthAdjust="spacingAndGlyphs">3702</text><text x="557.75" y="27.02" textLength="15.4" lengthAdjust="spacingAndGlyphs">3802</text><text x="557.75" y="15.71" textLength="15.4" lengthAdjust="spacingAndGlyphs">3902</text><text x="578.50" y="434.18" textLength="11.6" lengthAdjust="spacingAndGlyphs">203</text><text x="578.50" y="422.87" textLength="11.6" lengthAdjust="spacingAndGlyphs">303</text><text x="578.50" y="411.56" textLength="11.6" lengthAdjust="spacingAndGlyphs">403</text><text x="578.50" y="400.25" textLength="11.6" lengthAdjust="spacingAndGlyphs">503</text><text x="578.50" y="388.94" textLength="11.6" lengthAdjust="spacingAndGlyphs">603</text><text x="578.50" y="377.62" textLength="11.6" lengthAdjust="spacingAndGlyphs">703</text><text x="578.50" y="366.31" textLength="11.6" lengthAdjust="spacingAndGlyphs">803</text><text x="578.50" y="355.00" textLength="11.6" lengthAdjust="spacingAndGlyphs">903</text><text x="578.50" y="343.69" textLength="15.4" lengthAdjust="spacingAndGlyphs">1003</text><text x="578.50" y="332.38" textLength="15.4" lengthAdjust="spacingAndGlyphs">1103</text><text x="578.50" y="321.07" textLength="15.4" lengthAdjust="spacingAndGlyphs">1203</text><text x="578.50" y="309.76" textLength="15.4" lengthAdjust="spacingAndGlyphs">1303</text><text x="578.50" y="298.45" textLength="15.4" lengthAdjust="spacingAndGlyphs">1403</text><text x="578.50" y="287.14" textLength="15.4" lengthAdjust="spacingAndGlyphs">1503</text><text x="578.50" y="275.83" textLength="15.4" lengthAdjust="spacingAndGlyphs">1603</text><text x="578.50" y="264.52" textLength="15.4" lengthAdjust="spacingAndGlyphs">1703</text><text x="578.50" y="253.22" textLength="15.4" lengthAdjust="spacingAndGlyphs">1803</text><text x="578.50" y="241.91" textLength="15.4" lengthAdjust="spacingAndGlyphs">1903</text><text x="578.50" y="230.60" textLength="15.4" lengthAdjust="spacingAndGlyphs">2003</text><text x="578.50" y="219.29" textLength="15.4" lengthAdjust="spacingAndGlyphs">2103</text><text x="578.50" y="207.98" textLength="15.4" lengthAdjust="spacingAndGlyphs">2203</text><text x="578.50" y="196.67" textLength="15.4" lengthAdjust="spacingAndGlyphs">2303</text><text x="578.50" y="185.36" textLength="15.4" lengthAdjust="spacingAndGlyphs">2403</text><text x="578.50" y="174.05" textLength="15.4" lengthAdjust="spacingAndGlyphs">2503</text><text x="578.50" y="162.74" textLength="15.4" lengthAdjust="spacingAndGlyphs">2603</text><text x="578.50" y="151.43" textLength="15.4" lengthAdjust="spacingAndGlyphs">2703</text><text x="578.50" y="140.12" textLength="15.4" lengthAdjust="spacingAndGlyphs">2803</text><text x="578.50" y="128.81" textLength="15.4" lengthAdjust="spacingAndGlyphs">2903</text><text x="578.50" y="117.50" textLength="15.4" lengthAdjust="spacingAndGlyphs">3003</text><text x="578.50" y="106.19" textLength="15.4" lengthAdjust="spacingAndGlyphs">3103</text><text x="578.50" y="94.88" textLength="15.4" lengthAdjust="spacingAndGlyphs">3203</text><text x="578.50" y="83.56" textLength="15.4" lengthAdjust="spacingAndGlyphs">3303</text><text x="578.50" y="72.25" textLength="15.4" lengthAdjust="spacingAndGlyphs">3403</text><text x="578.50" y="60.95" textLength="15.4" lengthAdjust="spacingAndGlyphs">3503</text><text x="578.50" y="49.63" textLength="15.4" lengthAdjust="spacingAndGlyphs">3603</text><text x="578.50" y="38.33" textLength="15.4" lengthAdjust="spacingAndGlyphs">3703</text><text x="578.50" y="27.02" textLength="15.4" lengthAdjust="spacingAndGlyphs">3803</text><text x="578.50" y="15.71" textLength="15.4" lengthAdjust="spacingAndGlyphs">3903</text><text x="599.30" y="434.18" textLength="11.6" lengthAdjust="spacingAndGlyphs">204</text><text x="599.30" y="422.87" textLength="11.6" lengthAdjust="spacingAndGlyphs">304</text><text x="599.30" y="411.56" textLength="11.6" lengthAdjust="spacingAndGlyphs">404</text><text x="599.30" y="400.25" textLength="11.6" lengthAdjust="spacingAndGlyphs">504</text><text x="599.30" y="388.94" textLength="11.6" lengthAdjust="spacingAndGlyphs">604</text><text x="599.30" y="377.62" textLength="11.6" lengthAdjust="spacingAndGlyphs">704</text><text x="599.30" y="366.31" textLength="11.6" lengthAdjust="spacingAndGlyphs">804</text><text x="599.30" y="355.00" textLength="11.6" lengthAdjust="spacingAndGlyphs">904</text><text x="599.30" y="343.69" textLength="15.4" lengthAdjust="spacingAndGlyphs">1004</text><text x="599.30" y="332.38" textLength="15.4" lengthAdjust="spacingAndGlyphs">1104</text><text x="599.30" y="321.07" textLength="15.4" lengthAdjust="spacingAndGlyphs">1204</text><text x="599.30" y="309.76" textLength="15.4" lengthAdjust="spacingAndGlyphs">1304</text><text x="599.30" y="298.45" textLength="15.4" lengthAdjust="spacingAndGlyphs">1404</text><text x="599.30" y="287.14" textLength="15.4" lengthAdjust="spacingAndGlyphs">1504</text><text x="599.30" y="275.83" textLength="15.4" lengthAdjust="spacingAndGlyphs">1604</text><text x="599.30" y="264.52" textLength="15.4" lengthAdjust="spacingAndGlyphs">1704</text><text x="599.30" y="253.22" textLength="15.4" lengthAdjust="spacingAndGlyphs">1804</text><text x="599.30" y="241.91" textLength="15.4" lengthAdjust="spacingAndGlyphs">1904</text><text x="599.30" y="230.60" textLength="15.4" lengthAdjust="spacingAndGlyphs">2004</text><text x="599.30" y="219.29" textLength="15.4" lengthAdjust="spacingAndGlyphs">2104</text><text x="599.30" y="207.98" textLength="15.4" lengthAdjust="spacingAndGlyphs">2204</text><text x="599.30" y="196.67" textLength="15.4" lengthAdjust="spacingAndGlyphs">2304</text><text x="599.30" y="185.36" textLength="15.4" lengthAdjust="spacingAndGlyphs">2404</text><text x="599.30" y="174.05" textLength="15.4" lengthAdjust="spacingAndGlyphs">2504</text><text x="599.30" y="162.74" textLength="15.4" lengthAdjust="spacingAndGlyphs">2604</text><text x="599.30" y="151.43" textLength="15.4" lengthAdjust="spacingAndGlyphs">2704</text><text x="599.30" y="140.12" textLength="15.4" lengthAdjust="spacingAndGlyphs">2804</text><text x="599.30" y="128.81" textLength="15.4" lengthAdjust="spacingAndGlyphs">2904</text><text x="599.30" y="117.50" textLength="15.4" lengthAdjust="spacingAndGlyphs">3004</text><text x="599.30" y="106.19" textLength="15.4" lengthAdjust="spacingAndGlyphs">3104</text><text x="599.30" y="94.88" textLength="15.4" lengthAdjust="spacingAndGlyphs">3204</text><text x="599.30" y="83.56" textLength="15.4" lengthAdjust="spacingAndGlyphs">3304</text><text x="599.30" y="72.25" textLength="15.4" lengthAdjust="spacingAndGlyphs">3404</text><text x="599.30" y="60.95" textLength="15.4" lengthAdjust="spacingAndGlyphs">3504</text><text x="599.30" y="49.63" textLength="15.4" lengthAdjust="spacingAndGlyphs">3604</text><text x="599.30" y="38.33" textLength="15.4" lengthAdjust="spacingAndGlyphs">3704</text><text x="599.30" y="27.02" textLength="15.4" lengthAdjust="spacingAndGlyphs">3804</text><text x="599.30" y="15.71" textLength="15.4" lengthAdjust="spacingAndGlyphs">3904</text><text x="620.08" y="434.18" textLength="11.6" lengthAdjust="spacingAndGlyphs">205</text><text x="620.08" y="422.87" textLength="11.6" lengthAdjust="spacingAndGlyphs">305</text><text x="620.08" y="411.56" textLength="11.6" lengthAdjust="spacingAndGlyphs">405</text><text x="620.08" y="400.25" textLength="11.6" lengthAdjust="spacingAndGlyphs">505</text><text x="620.08" y="388.94" textLength="11.6" lengthAdjust="spacingAndGlyphs">605</text><text x="620.08" y="377.62" textLength="11.6" lengthAdjust="spacingAndGlyphs">705</text><text x="620.08" y="366.31" textLength="11.6" lengthAdjust="spacingAndGlyphs">805</text><text x="620.08" y="355.00" textLength="11.6" lengthAdjust="spacingAndGlyphs">905</text><text x="620.08" y="343.69" textLength="15.4" lengthAdjust="spacingAndGlyphs">1005</text><text x="620.08" y="332.38" textLength="15.4" lengthAdjust="spacingAndGlyphs">1105</text><text x="620.08" y="321.07" textLength="15.4" lengthAdjust="spacingAndGlyphs">1205</text><text x="620.08" y="309.76" textLength="15.4" lengthAdjust="spacingAndGlyphs">1305</text><text x="620.08" y="298.45" textLength="15.4" lengthAdjust="spacingAndGlyphs">1405</text><text x="620.08" y="287.14" textLength="15.4" lengthAdjust="spacingAndGlyphs">1505</text><text x="620.08" y="275.83" textLength="15.4" lengthAdjust="spacingAndGlyphs">1605</text><text x="620.08" y="264.52" textLength="15.4" lengthAdjust="spacingAndGlyphs">1705</text><text x="620.08" y="253.22" textLength="15.4" lengthAdjust="spacingAndGlyphs">1805</text><text x="620.08" y="241.91" textLength="15.4" lengthAdjust="spacingAndGlyphs">1905</text><text x="620.08" y="230.60" textLength="15.4" lengthAdjust="spacingAndGlyphs">2005</text><text x="620.08" y="219.29" textLength="15.4" lengthAdjust="spacingAndGlyphs">2105</text><text x="620.08" y="207.98" textLength="15.4" lengthAdjust="spacingAndGlyphs">2205</text><text x="620.08" y="196.67" textLength="15.4" lengthAdjust="spacingAndGlyphs">2305</text><text x="620.08" y="185.36" textLength="15.4" lengthAdjust="spacingAndGlyphs">2405</text><text x="620.08" y="174.05" textLength="15.4" lengthAdjust="spacingAndGlyphs">2505</text><text x="620.08" y="162.74" textLength="15.4" lengthAdjust="spacingAndGlyphs">2605</text><text x="620.08" y="151.43" textLength="15.4" lengthAdjust="spacingAndGlyphs">2705</text><text x="620.08" y="140.12" textLength="15.4" lengthAdjust="spacingAndGlyphs">2805</text><text x="620.08" y="128.81" textLength="15.4" lengthAdjust="spacingAndGlyphs">2905</text><text x="620.08" y="117.50" textLength="15.4" lengthAdjust="spacingAndGlyphs">3005</text><text x="620.08" y="106.19" textLength="15.4" lengthAdjust="spacingAndGlyphs">3105</text><text x="620.08" y="94.88" textLength="15.4" lengthAdjust="spacingAndGlyphs">3205</text><text x="620.08" y="83.56" textLength="15.4" lengthAdjust="spacingAndGlyphs">3305</text><text x="620.08" y="72.25" textLength="15.4" lengthAdjust="spacingAndGlyphs">3405</text><text x="620.08" y="60.95" textLength="15.4" lengthAdjust="spacingAndGlyphs">3505</text></g><g fill="#fff" stroke="#fff" stroke-width="0.2" font-size="8.6" font-family="DejaVu Sans, sans-serif" font-stretch="condensed" text-anchor="middle"><text x="537.02" y="456.94" textLength="12.0" lengthAdjust="spacingAndGlyphs">84C</text><text x="557.75" y="456.94" textLength="12.0" lengthAdjust="spacingAndGlyphs">84A</text><text x="578.50" y="456.94" textLength="12.0" lengthAdjust="spacingAndGlyphs">84A</text><text x="599.30" y="456.94" textLength="12.0" lengthAdjust="spacingAndGlyphs">84B</text><text x="620.08" y="456.94" textLength="12.0" lengthAdjust="spacingAndGlyphs">84A</text></g><rect x="526.55" y="459.70" width="104.00" height="11.71" fill="#3d434a"/><text x="578.55" y="468.36" fill="#f0f0f0" font-size="8.8" font-weight="bold" text-anchor="middle"><tspan textLength="12.6" lengthAdjust="spacingAndGlyphs">110</tspan><tspan font-size="6.8" font-weight="normal" stroke="#f0f0f0" stroke-width="0.25">동</tspan></text></svg></div></body></html>
